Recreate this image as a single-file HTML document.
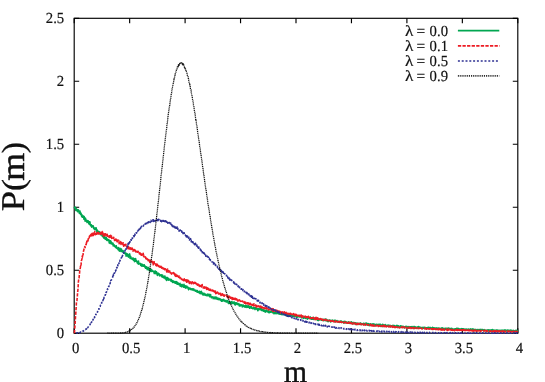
<!DOCTYPE html>
<html><head><meta charset="utf-8"><style>
html,body{margin:0;padding:0;background:#fff;}
body{width:545px;height:382px;overflow:hidden;font-family:"Liberation Serif",serif;}
svg{display:block;}
text{font-family:"Liberation Serif",serif;fill:#111;text-rendering:geometricPrecision;}
</style></head><body>
<svg width="545" height="382" viewBox="0 0 545 382">
<rect width="545" height="382" fill="#fff"/>
<g fill="none" stroke="#000" stroke-width="1.15">
<rect x="74.2" y="18.3" width="443.60" height="314.90"/>
<path d="M74.20 333.2 V328.2 M74.20 18.3 V23.3"/><path d="M129.65 333.2 V328.2 M129.65 18.3 V23.3"/><path d="M185.10 333.2 V328.2 M185.10 18.3 V23.3"/><path d="M240.55 333.2 V328.2 M240.55 18.3 V23.3"/><path d="M296.00 333.2 V328.2 M296.00 18.3 V23.3"/><path d="M351.45 333.2 V328.2 M351.45 18.3 V23.3"/><path d="M406.90 333.2 V328.2 M406.90 18.3 V23.3"/><path d="M462.35 333.2 V328.2 M462.35 18.3 V23.3"/><path d="M517.80 333.2 V328.2 M517.80 18.3 V23.3"/><path d="M74.2 333.20 H79.2 M517.8 333.20 H512.8"/><path d="M74.2 270.22 H79.2 M517.8 270.22 H512.8"/><path d="M74.2 207.24 H79.2 M517.8 207.24 H512.8"/><path d="M74.2 144.26 H79.2 M517.8 144.26 H512.8"/><path d="M74.2 81.28 H79.2 M517.8 81.28 H512.8"/><path d="M74.2 18.30 H79.2 M517.8 18.30 H512.8"/>
</g>
<g fill="none" stroke-linejoin="round">
<path d="M74.2 207.2 L74.4 207.8 L74.6 207.4 L74.9 207.0 L75.1 207.8 L75.3 207.4 L75.5 208.8 L75.8 210.4 L76.0 208.7 L76.2 208.8 L76.4 210.3 L76.6 210.4 L76.9 210.3 L77.1 209.5 L77.3 210.7 L77.5 211.7 L77.7 209.8 L78.0 211.0 L78.2 209.7 L78.4 210.6 L78.6 210.2 L78.9 212.2 L79.1 211.3 L79.3 213.2 L79.5 213.3 L79.7 213.2 L80.0 211.0 L80.2 213.3 L80.4 214.0 L80.6 214.5 L80.9 213.0 L81.1 214.3 L81.3 214.0 L81.5 214.4 L81.7 216.6 L82.0 214.9 L82.2 216.0 L82.4 217.1 L82.6 215.9 L82.9 216.6 L83.1 217.0 L83.3 217.2 L83.5 216.1 L83.7 217.7 L84.0 219.3 L84.2 216.5 L84.4 219.2 L84.6 218.7 L84.8 218.1 L85.1 221.1 L85.3 220.0 L85.5 218.2 L85.7 219.8 L86.0 220.5 L86.2 219.9 L86.4 221.1 L86.6 220.5 L86.8 221.5 L87.1 222.5 L87.3 220.6 L87.5 221.7 L87.7 221.2 L88.0 222.1 L88.2 220.9 L88.4 221.8 L88.6 222.4 L88.8 223.7 L89.1 224.2 L89.3 221.9 L89.5 222.7 L89.7 224.4 L89.9 221.9 L90.2 223.7 L90.4 224.3 L90.6 225.8 L90.8 225.5 L91.1 224.7 L91.3 224.8 L91.5 225.2 L91.7 227.2 L91.9 225.4 L92.2 225.8 L92.4 226.6 L92.6 226.4 L92.8 226.5 L93.1 225.8 L93.3 227.1 L93.5 226.9 L93.7 228.7 L93.9 228.4 L94.2 228.0 L94.4 228.9 L94.6 228.1 L94.8 229.7 L95.0 228.8 L95.3 229.6 L95.5 228.0 L95.7 229.8 L95.9 228.0 L96.2 227.9 L96.4 229.8 L96.6 229.4 L96.8 230.6 L97.0 232.9 L97.3 230.1 L97.5 230.5 L97.7 231.5 L97.9 232.0 L98.2 231.5 L98.4 231.7 L98.6 232.8 L98.8 232.8 L99.0 231.5 L99.3 232.6 L99.5 233.0 L99.7 232.1 L99.9 233.6 L100.2 232.7 L100.4 234.7 L100.6 234.1 L100.8 234.2 L101.0 233.7 L101.3 234.4 L101.5 232.8 L101.7 233.8 L101.9 235.5 L102.1 233.2 L102.4 236.3 L102.6 234.0 L102.8 236.6 L103.0 235.3 L103.3 237.0 L103.5 236.6 L103.7 235.2 L103.9 238.1 L104.1 238.4 L104.4 237.2 L104.6 237.2 L104.8 237.5 L105.0 236.9 L105.3 239.1 L105.5 237.7 L105.7 238.3 L105.9 237.8 L106.1 238.2 L106.4 237.7 L106.6 240.3 L106.8 239.2 L107.0 240.4 L107.2 239.7 L107.5 239.2 L107.7 239.8 L107.9 239.7 L108.1 240.5 L108.4 240.3 L108.6 240.5 L108.8 239.7 L109.0 240.4 L109.2 242.9 L109.5 240.9 L109.7 240.7 L109.9 242.2 L110.1 243.4 L110.4 240.9 L110.6 242.3 L110.8 242.0 L111.0 241.2 L111.2 243.7 L111.5 243.2 L111.7 243.4 L111.9 242.8 L112.1 244.2 L112.3 243.4 L112.6 243.9 L112.8 243.2 L113.0 243.3 L113.2 245.9 L113.5 244.3 L113.7 245.2 L113.9 245.1 L114.1 244.9 L114.3 245.0 L114.6 246.3 L114.8 245.6 L115.0 245.9 L115.2 246.2 L115.5 247.5 L115.7 247.2 L115.9 247.1 L116.1 246.4 L116.3 245.8 L116.6 248.1 L116.8 248.3 L117.0 247.4 L117.2 248.2 L117.5 248.6 L117.7 248.9 L117.9 249.1 L118.1 248.0 L118.3 250.0 L118.6 247.6 L118.8 249.7 L119.0 249.6 L119.2 250.1 L119.4 251.2 L119.7 251.0 L119.9 248.7 L120.1 248.4 L120.3 250.9 L120.6 249.3 L120.8 250.4 L121.0 251.4 L121.2 249.3 L121.4 249.0 L121.7 251.3 L121.9 251.3 L122.1 251.2 L122.3 251.6 L122.6 251.0 L122.8 250.5 L123.0 251.9 L123.2 251.4 L123.4 250.9 L123.7 253.0 L123.9 252.7 L124.1 253.2 L124.3 252.2 L124.5 252.6 L124.8 252.5 L125.0 252.7 L125.2 253.9 L125.4 253.1 L125.7 254.3 L125.9 254.5 L126.1 256.1 L126.3 253.2 L126.5 255.4 L126.8 254.7 L127.0 254.9 L127.2 253.8 L127.4 254.8 L127.7 256.1 L127.9 255.5 L128.1 255.8 L128.3 255.6 L128.5 257.1 L128.8 256.2 L129.0 254.4 L129.2 255.9 L129.4 254.9 L129.7 253.9 L129.9 256.5 L130.1 258.3 L130.3 257.3 L130.5 256.4 L130.8 256.7 L131.0 258.7 L131.2 258.0 L131.4 258.1 L131.6 258.1 L131.9 258.3 L132.1 259.2 L132.3 259.1 L132.5 259.0 L132.8 258.0 L133.0 259.5 L133.2 258.6 L133.4 260.3 L133.6 258.4 L133.9 259.5 L134.1 259.8 L134.3 258.8 L134.5 261.6 L134.8 261.5 L135.0 260.0 L135.2 261.2 L135.4 261.0 L135.6 258.6 L135.9 261.2 L136.1 261.1 L136.3 261.3 L136.5 260.5 L136.7 261.3 L137.0 261.5 L137.2 262.8 L137.4 262.3 L137.6 262.1 L137.9 263.6 L138.1 261.9 L138.3 262.2 L138.5 261.1 L138.7 264.2 L139.0 263.8 L139.2 263.9 L139.4 263.8 L139.6 263.5 L139.9 263.7 L140.1 263.4 L140.3 263.6 L140.5 264.0 L140.7 265.4 L141.0 264.7 L141.2 264.3 L141.4 264.0 L141.6 264.1 L141.8 266.1 L142.1 265.3 L142.3 265.1 L142.5 264.9 L142.7 264.4 L143.0 265.4 L143.2 266.3 L143.4 265.4 L143.6 265.7 L143.8 265.8 L144.1 266.2 L144.3 264.9 L144.5 266.2 L144.7 265.8 L145.0 267.4 L145.2 266.1 L145.4 267.4 L145.6 268.3 L145.8 266.9 L146.1 266.8 L146.3 267.6 L146.5 267.6 L146.7 266.9 L147.0 268.2 L147.2 269.6 L147.4 267.9 L147.6 268.1 L147.8 267.5 L148.1 268.8 L148.3 267.6 L148.5 267.8 L148.7 269.9 L148.9 268.3 L149.2 270.0 L149.4 270.5 L149.6 269.6 L149.8 270.0 L150.1 271.2 L150.3 269.6 L150.5 269.4 L150.7 268.9 L150.9 270.2 L151.2 271.5 L151.4 271.2 L151.6 269.8 L151.8 269.9 L152.1 270.4 L152.3 271.1 L152.5 270.9 L152.7 271.3 L152.9 271.5 L153.2 271.2 L153.4 271.5 L153.6 271.8 L153.8 271.7 L154.0 272.3 L154.3 273.5 L154.5 272.6 L154.7 272.3 L154.9 271.0 L155.2 272.8 L155.4 271.0 L155.6 271.6 L155.8 273.6 L156.0 273.6 L156.3 273.0 L156.5 271.8 L156.7 273.0 L156.9 272.9 L157.2 274.1 L157.4 275.5 L157.6 274.0 L157.8 273.3 L158.0 273.1 L158.3 274.1 L158.5 274.2 L158.7 273.5 L158.9 274.6 L159.1 273.7 L159.4 275.7 L159.6 275.7 L159.8 275.9 L160.0 274.7 L160.3 275.6 L160.5 275.2 L160.7 275.1 L160.9 275.3 L161.1 274.7 L161.4 274.7 L161.6 276.5 L161.8 275.9 L162.0 276.3 L162.3 277.1 L162.5 275.0 L162.7 275.9 L162.9 276.7 L163.1 277.0 L163.4 276.5 L163.6 277.8 L163.8 277.2 L164.0 276.2 L164.3 276.5 L164.5 278.0 L164.7 277.9 L164.9 276.1 L165.1 278.8 L165.4 278.3 L165.6 279.0 L165.8 277.8 L166.0 277.9 L166.2 277.4 L166.5 280.4 L166.7 278.4 L166.9 279.8 L167.1 278.2 L167.4 278.9 L167.6 277.6 L167.8 278.7 L168.0 279.9 L168.2 278.3 L168.5 280.2 L168.7 279.7 L168.9 278.8 L169.1 279.3 L169.4 279.4 L169.6 279.9 L169.8 279.6 L170.0 279.5 L170.2 280.0 L170.5 279.5 L170.7 279.4 L170.9 280.5 L171.1 281.3 L171.3 279.6 L171.6 280.9 L171.8 280.5 L172.0 280.3 L172.2 281.8 L172.5 280.9 L172.7 282.5 L172.9 280.9 L173.1 281.9 L173.3 281.5 L173.6 281.2 L173.8 282.3 L174.0 281.9 L174.2 282.6 L174.5 282.2 L174.7 281.5 L174.9 282.3 L175.1 282.5 L175.3 283.3 L175.6 282.0 L175.8 282.8 L176.0 281.6 L176.2 283.5 L176.4 282.3 L176.7 281.8 L176.9 283.3 L177.1 284.2 L177.3 282.4 L177.6 282.8 L177.8 283.1 L178.0 282.9 L178.2 284.2 L178.4 283.4 L178.7 283.6 L178.9 284.6 L179.1 283.7 L179.3 284.7 L179.6 283.8 L179.8 283.7 L180.0 283.3 L180.2 286.2 L180.4 284.6 L180.7 285.2 L180.9 285.0 L181.1 285.3 L181.3 285.3 L181.6 286.8 L181.8 284.7 L182.0 284.4 L182.2 284.9 L182.4 284.7 L182.7 286.4 L182.9 286.5 L183.1 285.3 L183.3 285.1 L183.5 285.9 L183.8 287.3 L184.0 284.3 L184.2 286.9 L184.4 285.8 L184.7 287.4 L184.9 286.0 L185.1 286.7 L185.3 285.8 L185.5 286.3 L185.8 288.2 L186.0 287.8 L186.2 287.0 L186.4 286.8 L186.7 286.1 L186.9 287.3 L187.1 287.7 L187.3 287.7 L187.5 287.8 L187.8 287.1 L188.0 288.0 L188.2 288.1 L188.4 289.2 L188.6 289.7 L188.9 288.3 L189.1 287.9 L189.3 288.5 L189.5 288.2 L189.8 288.2 L190.0 288.8 L190.2 288.2 L190.4 289.5 L190.6 289.0 L190.9 289.4 L191.1 289.2 L191.3 288.9 L191.5 288.8 L191.8 289.4 L192.0 289.3 L192.2 289.9 L192.4 289.8 L192.6 288.9 L192.9 290.0 L193.1 289.1 L193.3 289.7 L193.5 290.0 L193.8 288.9 L194.0 290.5 L194.2 290.6 L194.4 290.5 L194.6 290.4 L194.9 290.5 L195.1 290.2 L195.3 290.7 L195.5 290.6 L195.7 291.2 L196.0 290.3 L196.2 291.4 L196.4 291.5 L196.6 291.3 L196.9 291.2 L197.1 292.0 L197.3 290.5 L197.5 292.1 L197.7 292.0 L198.0 292.1 L198.2 292.3 L198.4 291.6 L198.6 292.0 L198.9 292.7 L199.1 292.7 L199.3 292.6 L199.5 291.4 L199.7 293.0 L200.0 293.5 L200.2 293.5 L200.4 293.0 L200.6 291.8 L200.8 293.7 L201.1 293.0 L201.3 291.4 L201.5 293.5 L201.7 292.3 L202.0 292.5 L202.2 293.0 L202.4 294.4 L202.6 293.4 L202.8 293.9 L203.1 295.0 L203.3 295.0 L203.5 293.9 L203.7 293.9 L204.0 293.2 L204.2 293.7 L204.4 294.6 L204.6 294.6 L204.8 294.5 L205.1 295.2 L205.3 294.0 L205.5 294.6 L205.7 295.2 L205.9 295.2 L206.2 295.6 L206.4 295.2 L206.6 294.8 L206.8 295.4 L207.1 294.5 L207.3 294.1 L207.5 295.7 L207.7 295.4 L207.9 295.7 L208.2 294.4 L208.4 295.4 L208.6 295.3 L208.8 295.2 L209.1 294.3 L209.3 295.7 L209.5 296.6 L209.7 296.3 L209.9 295.8 L210.2 296.2 L210.4 296.8 L210.6 294.5 L210.8 296.4 L211.1 296.9 L211.3 297.1 L211.5 297.8 L211.7 297.5 L211.9 297.0 L212.2 297.1 L212.4 297.5 L212.6 296.7 L212.8 297.1 L213.0 297.8 L213.3 298.6 L213.5 297.2 L213.7 297.4 L213.9 297.6 L214.2 298.4 L214.4 297.6 L214.6 298.7 L214.8 297.1 L215.0 297.7 L215.3 297.8 L215.5 298.5 L215.7 298.7 L215.9 297.1 L216.2 297.6 L216.4 298.5 L216.6 297.9 L216.8 297.4 L217.0 299.1 L217.3 298.9 L217.5 298.9 L217.7 298.3 L217.9 299.4 L218.1 298.6 L218.4 299.6 L218.6 298.3 L218.8 298.4 L219.0 299.2 L219.3 298.7 L219.5 299.7 L219.7 299.5 L219.9 298.7 L220.1 299.5 L220.4 299.3 L220.6 300.2 L220.8 299.2 L221.0 299.4 L221.3 300.5 L221.5 301.3 L221.7 301.2 L221.9 300.0 L222.1 300.2 L222.4 301.1 L222.6 300.1 L222.8 299.6 L223.0 300.4 L223.2 300.6 L223.5 299.9 L223.7 299.4 L223.9 299.6 L224.1 301.0 L224.4 300.2 L224.6 300.6 L224.8 300.9 L225.0 301.3 L225.2 300.7 L225.5 301.3 L225.7 300.5 L225.9 300.9 L226.1 300.5 L226.4 302.0 L226.6 301.3 L226.8 300.9 L227.0 301.2 L227.2 301.4 L227.5 302.0 L227.7 300.6 L227.9 301.0 L228.1 301.5 L228.4 303.5 L228.6 302.5 L228.8 301.9 L229.0 302.5 L229.2 303.4 L229.5 302.0 L229.7 302.0 L229.9 303.0 L230.1 302.6 L230.3 302.8 L230.6 302.1 L230.8 303.7 L231.0 303.7 L231.2 303.0 L231.5 303.1 L231.7 301.5 L231.9 303.2 L232.1 302.8 L232.3 303.2 L232.6 303.4 L232.8 302.8 L233.0 302.0 L233.2 303.4 L233.5 302.8 L233.7 303.1 L233.9 303.0 L234.1 303.2 L234.3 302.0 L234.6 304.3 L234.8 303.8 L235.0 304.4 L235.2 305.0 L235.4 303.8 L235.7 302.7 L235.9 303.3 L236.1 303.2 L236.3 303.7 L236.6 304.1 L236.8 302.9 L237.0 304.4 L237.2 303.3 L237.4 304.5 L237.7 304.3 L237.9 304.2 L238.1 304.4 L238.3 304.2 L238.6 304.2 L238.8 303.6 L239.0 304.7 L239.2 305.9 L239.4 306.0 L239.7 305.7 L239.9 305.4 L240.1 304.6 L240.3 305.9 L240.6 305.1 L240.8 305.1 L241.0 305.0 L241.2 305.3 L241.4 305.0 L241.7 305.3 L241.9 304.8 L242.1 305.3 L242.3 307.0 L242.5 305.6 L242.8 305.5 L243.0 306.0 L243.2 306.2 L243.4 305.1 L243.7 305.7 L243.9 306.5 L244.1 306.1 L244.3 306.1 L244.5 307.0 L244.8 305.7 L245.0 306.2 L245.2 305.9 L245.4 307.2 L245.7 305.2 L245.9 306.0 L246.1 306.1 L246.3 306.9 L246.5 306.9 L246.8 307.5 L247.0 305.7 L247.2 307.2 L247.4 306.6 L247.6 306.4 L247.9 307.2 L248.1 306.4 L248.3 305.7 L248.5 306.8 L248.8 306.2 L249.0 306.8 L249.2 307.4 L249.4 307.4 L249.6 308.3 L249.9 307.2 L250.1 306.5 L250.3 307.0 L250.5 307.0 L250.8 306.8 L251.0 307.9 L251.2 307.3 L251.4 306.5 L251.6 308.2 L251.9 307.8 L252.1 308.1 L252.3 308.0 L252.5 308.4 L252.7 308.0 L253.0 308.8 L253.2 308.4 L253.4 308.4 L253.6 308.5 L253.9 307.4 L254.1 308.2 L254.3 308.2 L254.5 308.5 L254.7 307.7 L255.0 309.5 L255.2 308.6 L255.4 307.9 L255.6 307.7 L255.9 308.6 L256.1 308.7 L256.3 308.4 L256.5 308.9 L256.7 308.5 L257.0 309.3 L257.2 308.6 L257.4 309.0 L257.6 309.7 L257.9 310.7 L258.1 308.6 L258.3 309.0 L258.5 308.8 L258.7 309.8 L259.0 308.7 L259.2 309.2 L259.4 309.5 L259.6 309.0 L259.8 309.0 L260.1 309.4 L260.3 308.4 L260.5 308.9 L260.7 309.5 L261.0 309.9 L261.2 309.8 L261.4 308.9 L261.6 309.7 L261.8 310.5 L262.1 310.4 L262.3 310.1 L262.5 309.6 L262.7 310.6 L263.0 309.9 L263.2 309.6 L263.4 309.9 L263.6 311.2 L263.8 310.5 L264.1 311.1 L264.3 310.2 L264.5 311.1 L264.7 310.3 L264.9 310.6 L265.2 312.1 L265.4 311.2 L265.6 310.5 L265.8 310.8 L266.1 311.1 L266.3 311.6 L266.5 310.7 L266.7 310.0 L266.9 310.9 L267.2 311.1 L267.4 311.2 L267.6 311.9 L267.8 311.4 L268.1 311.7 L268.3 310.7 L268.5 311.9 L268.7 312.6 L268.9 311.9 L269.2 311.6 L269.4 311.6 L269.6 312.6 L269.8 311.1 L270.0 311.6 L270.3 312.0 L270.5 312.2 L270.7 311.5 L270.9 312.0 L271.2 311.7 L271.4 312.0 L271.6 311.9 L271.8 311.4 L272.0 312.0 L272.3 312.6 L272.5 311.6 L272.7 312.0 L272.9 312.6 L273.2 311.6 L273.4 312.4 L273.6 311.7 L273.8 313.0 L274.0 313.7 L274.3 313.6 L274.5 312.4 L274.7 313.0 L274.9 312.7 L275.2 312.7 L275.4 313.5 L275.6 312.0 L275.8 313.3 L276.0 312.8 L276.3 313.6 L276.5 313.0 L276.7 312.5 L276.9 313.1 L277.1 313.4 L277.4 313.1 L277.6 313.3 L277.8 312.8 L278.0 312.0 L278.3 313.7 L278.5 313.6 L278.7 313.4 L278.9 313.4 L279.1 313.9 L279.4 313.1 L279.6 313.0 L279.8 313.4 L280.0 314.2 L280.3 312.8 L280.5 314.3 L280.7 313.3 L280.9 313.1 L281.1 314.4 L281.4 313.7 L281.6 313.1 L281.8 313.6 L282.0 314.4 L282.2 314.6 L282.5 313.7 L282.7 314.2 L282.9 314.4 L283.1 313.7 L283.4 314.3 L283.6 314.1 L283.8 313.9 L284.0 313.9 L284.2 314.3 L284.5 314.3 L284.7 314.0 L284.9 314.1 L285.1 315.0 L285.4 314.6 L285.6 315.0 L285.8 315.2 L286.0 314.9 L286.2 315.8 L286.5 314.2 L286.7 315.1 L286.9 314.5 L287.1 315.7 L287.3 315.7 L287.6 313.7 L287.8 314.3 L288.0 315.2 L288.2 315.3 L288.5 315.4 L288.7 315.0 L288.9 315.3 L289.1 315.4 L289.3 315.1 L289.6 315.7 L289.8 313.9 L290.0 315.6 L290.2 314.7 L290.5 315.8 L290.7 315.2 L290.9 314.9 L291.1 315.6 L291.3 314.9 L291.6 315.0 L291.8 314.6 L292.0 315.5 L292.2 315.8 L292.5 316.1 L292.7 315.6 L292.9 316.2 L293.1 315.7 L293.3 315.7 L293.6 316.1 L293.8 316.4 L294.0 315.7 L294.2 315.7 L294.4 315.8 L294.7 316.0 L294.9 315.5 L295.1 316.6 L295.3 315.8 L295.6 316.3 L295.8 315.7 L296.0 316.3 L296.2 316.4 L296.4 316.0 L296.7 317.3 L296.9 316.5 L297.1 317.3 L297.3 316.9 L297.6 316.0 L297.8 316.2 L298.0 316.7 L298.2 316.5 L298.4 316.6 L298.7 316.4 L298.9 315.6 L299.1 316.5 L299.3 315.5 L299.5 316.9 L299.8 316.3 L300.0 316.4 L300.2 316.7 L300.4 317.0 L300.7 316.1 L300.9 316.0 L301.1 316.4 L301.3 315.9 L301.5 316.5 L301.8 317.9 L302.0 316.5 L302.2 317.4 L302.4 316.4 L302.7 317.3 L302.9 317.0 L303.1 317.2 L303.3 317.5 L303.5 318.2 L303.8 317.4 L304.0 317.4 L304.2 316.9 L304.4 317.7 L304.7 317.3 L304.9 317.9 L305.1 317.5 L305.3 318.4 L305.5 316.5 L305.8 317.4 L306.0 318.1 L306.2 317.5 L306.4 317.3 L306.6 317.6 L306.9 317.0 L307.1 317.8 L307.3 319.1 L307.5 318.4 L307.8 317.3 L308.0 317.4 L308.2 317.7 L308.4 318.5 L308.6 317.6 L308.9 317.7 L309.1 318.5 L309.3 318.5 L309.5 317.9 L309.8 317.6 L310.0 317.4 L310.2 317.8 L310.4 317.1 L310.6 318.6 L310.9 318.0 L311.1 318.6 L311.3 319.3 L311.5 319.0 L311.7 317.8 L312.0 318.9 L312.2 319.1 L312.4 318.1 L312.6 318.0 L312.9 318.5 L313.1 317.8 L313.3 319.4 L313.5 317.4 L313.7 318.1 L314.0 318.6 L314.2 318.6 L314.4 318.8 L314.6 318.9 L314.9 318.7 L315.1 319.4 L315.3 317.8 L315.5 318.9 L315.7 318.6 L316.0 319.0 L316.2 319.1 L316.4 318.6 L316.6 318.7 L316.8 319.5 L317.1 319.3 L317.3 318.8 L317.5 320.2 L317.7 320.3 L318.0 318.5 L318.2 319.4 L318.4 320.5 L318.6 319.7 L318.8 319.4 L319.1 319.3 L319.3 319.1 L319.5 319.3 L319.7 319.2 L320.0 319.8 L320.2 319.3 L320.4 319.3 L320.6 318.9 L320.8 319.5 L321.1 319.2 L321.3 319.5 L321.5 320.2 L321.7 319.9 L322.0 320.0 L322.2 319.9 L322.4 319.8 L322.6 319.7 L322.8 319.7 L323.1 320.2 L323.3 319.3 L323.5 320.6 L323.7 319.9 L323.9 319.6 L324.2 319.7 L324.4 319.7 L324.6 320.1 L324.8 319.7 L325.1 320.6 L325.3 319.7 L325.5 319.0 L325.7 319.8 L325.9 319.2 L326.2 320.2 L326.4 320.8 L326.6 320.6 L326.8 319.6 L327.1 319.9 L327.3 321.2 L327.5 320.5 L327.7 320.4 L327.9 320.9 L328.2 321.6 L328.4 321.1 L328.6 320.6 L328.8 320.7 L329.0 320.8 L329.3 320.3 L329.5 320.1 L329.7 320.6 L329.9 320.2 L330.2 320.6 L330.4 320.7 L330.6 321.9 L330.8 320.3 L331.0 320.7 L331.3 320.7 L331.5 321.0 L331.7 321.4 L331.9 320.6 L332.2 320.5 L332.4 320.1 L332.6 320.5 L332.8 321.2 L333.0 321.0 L333.3 320.5 L333.5 320.9 L333.7 321.1 L333.9 321.3 L334.1 320.8 L334.4 321.0 L334.6 320.3 L334.8 320.6 L335.0 322.0 L335.3 320.2 L335.5 321.1 L335.7 321.4 L335.9 321.1 L336.1 320.9 L336.4 321.3 L336.6 321.4 L336.8 321.4 L337.0 320.5 L337.3 321.4 L337.5 321.1 L337.7 321.2 L337.9 321.6 L338.1 321.8 L338.4 322.0 L338.6 321.4 L338.8 322.1 L339.0 322.2 L339.3 322.2 L339.5 322.3 L339.7 321.6 L339.9 321.6 L340.1 322.1 L340.4 321.1 L340.6 321.9 L340.8 321.6 L341.0 321.7 L341.2 321.0 L341.5 321.5 L341.7 321.9 L341.9 322.4 L342.1 322.4 L342.4 321.9 L342.6 321.9 L342.8 321.6 L343.0 322.2 L343.2 321.9 L343.5 322.4 L343.7 322.9 L343.9 322.1 L344.1 321.4 L344.4 321.8 L344.6 321.5 L344.8 321.7 L345.0 322.9 L345.2 322.4 L345.5 321.6 L345.7 322.6 L345.9 322.9 L346.1 322.2 L346.3 322.1 L346.6 322.2 L346.8 322.6 L347.0 322.7 L347.2 323.0 L347.5 323.0 L347.7 323.1 L347.9 323.2 L348.1 322.9 L348.3 321.9 L348.6 322.5 L348.8 322.8 L349.0 322.5 L349.2 323.1 L349.5 322.5 L349.7 322.3 L349.9 323.4 L350.1 323.0 L350.3 322.9 L350.6 323.2 L350.8 323.3 L351.0 323.0 L351.2 321.7 L351.4 322.5 L351.7 322.7 L351.9 322.4 L352.1 323.0 L352.3 323.5 L352.6 322.7 L352.8 322.5 L353.0 323.9 L353.2 322.8 L353.4 322.5 L353.7 323.2 L353.9 323.3 L354.1 322.8 L354.3 323.5 L354.6 322.9 L354.8 322.7 L355.0 323.3 L355.2 323.6 L355.4 322.9 L355.7 323.4 L355.9 323.2 L356.1 324.6 L356.3 323.0 L356.6 324.0 L356.8 323.3 L357.0 323.3 L357.2 323.7 L357.4 323.8 L357.7 324.0 L357.9 323.6 L358.1 323.2 L358.3 323.2 L358.5 323.7 L358.8 323.8 L359.0 324.2 L359.2 323.8 L359.4 324.1 L359.7 324.3 L359.9 323.7 L360.1 323.0 L360.3 323.1 L360.5 323.0 L360.8 324.4 L361.0 323.3 L361.2 324.3 L361.4 324.0 L361.7 324.5 L361.9 324.2 L362.1 323.8 L362.3 323.7 L362.5 323.9 L362.8 323.9 L363.0 323.6 L363.2 323.9 L363.4 324.6 L363.6 323.2 L363.9 324.1 L364.1 323.6 L364.3 324.1 L364.5 324.4 L364.8 324.0 L365.0 324.4 L365.2 323.4 L365.4 324.6 L365.6 323.8 L365.9 324.4 L366.1 324.2 L366.3 323.0 L366.5 323.8 L366.8 324.3 L367.0 324.9 L367.2 324.4 L367.4 324.4 L367.6 323.6 L367.9 324.9 L368.1 325.1 L368.3 324.3 L368.5 324.2 L368.8 323.6 L369.0 324.8 L369.2 325.6 L369.4 324.7 L369.6 325.0 L369.9 324.7 L370.1 324.0 L370.3 325.1 L370.5 323.9 L370.7 324.4 L371.0 324.7 L371.2 324.9 L371.4 324.7 L371.6 324.8 L371.9 324.3 L372.1 324.0 L372.3 324.7 L372.5 324.3 L372.7 324.1 L373.0 324.1 L373.2 324.5 L373.4 323.9 L373.6 324.1 L373.9 324.0 L374.1 324.8 L374.3 325.0 L374.5 325.7 L374.7 324.2 L375.0 324.5 L375.2 325.3 L375.4 324.8 L375.6 324.7 L375.8 325.7 L376.1 324.8 L376.3 324.4 L376.5 324.4 L376.7 325.1 L377.0 325.1 L377.2 324.4 L377.4 324.6 L377.6 325.3 L377.8 325.3 L378.1 324.8 L378.3 325.4 L378.5 325.3 L378.7 324.3 L379.0 325.0 L379.2 325.3 L379.4 324.9 L379.6 324.3 L379.8 325.1 L380.1 325.5 L380.3 325.9 L380.5 324.3 L380.7 326.4 L380.9 324.8 L381.2 325.7 L381.4 325.8 L381.6 325.7 L381.8 325.4 L382.1 324.9 L382.3 325.6 L382.5 325.1 L382.7 324.3 L382.9 326.6 L383.2 325.7 L383.4 326.2 L383.6 325.1 L383.8 326.1 L384.1 326.2 L384.3 326.2 L384.5 325.5 L384.7 325.0 L384.9 325.5 L385.2 324.6 L385.4 324.9 L385.6 325.6 L385.8 325.2 L386.1 325.6 L386.3 325.6 L386.5 326.5 L386.7 326.2 L386.9 325.7 L387.2 326.2 L387.4 325.4 L387.6 325.6 L387.8 326.1 L388.0 325.2 L388.3 325.7 L388.5 325.2 L388.7 325.9 L388.9 326.5 L389.2 325.5 L389.4 326.0 L389.6 325.5 L389.8 325.4 L390.0 325.4 L390.3 326.5 L390.5 326.9 L390.7 326.1 L390.9 325.7 L391.2 326.3 L391.4 325.8 L391.6 326.3 L391.8 326.1 L392.0 326.1 L392.3 326.3 L392.5 325.8 L392.7 325.9 L392.9 325.4 L393.1 325.9 L393.4 325.5 L393.6 326.1 L393.8 325.7 L394.0 326.2 L394.3 326.4 L394.5 325.6 L394.7 325.9 L394.9 325.8 L395.1 326.5 L395.4 327.0 L395.6 326.6 L395.8 326.1 L396.0 326.9 L396.3 325.7 L396.5 326.9 L396.7 326.0 L396.9 325.2 L397.1 327.5 L397.4 327.0 L397.6 325.9 L397.8 326.5 L398.0 326.3 L398.2 326.5 L398.5 325.8 L398.7 326.2 L398.9 326.7 L399.1 326.6 L399.4 327.0 L399.6 326.5 L399.8 327.5 L400.0 326.2 L400.2 326.6 L400.5 325.8 L400.7 326.0 L400.9 327.1 L401.1 326.2 L401.4 326.8 L401.6 326.6 L401.8 326.2 L402.0 326.5 L402.2 326.4 L402.5 326.5 L402.7 327.0 L402.9 327.0 L403.1 326.5 L403.4 326.4 L403.6 326.9 L403.8 326.7 L404.0 327.2 L404.2 327.9 L404.5 327.1 L404.7 326.8 L404.9 326.7 L405.1 326.5 L405.3 326.5 L405.6 326.4 L405.8 326.7 L406.0 326.7 L406.2 327.2 L406.5 326.7 L406.7 326.8 L406.9 326.4 L407.1 327.6 L407.3 327.2 L407.6 327.7 L407.8 327.3 L408.0 327.6 L408.2 326.9 L408.5 327.3 L408.7 328.1 L408.9 326.5 L409.1 327.5 L409.3 327.8 L409.6 327.2 L409.8 327.4 L410.0 327.6 L410.2 326.8 L410.4 327.3 L410.7 326.8 L410.9 326.9 L411.1 326.9 L411.3 327.1 L411.6 327.2 L411.8 327.4 L412.0 326.6 L412.2 328.0 L412.4 327.7 L412.7 327.5 L412.9 327.1 L413.1 327.2 L413.3 327.5 L413.6 327.5 L413.8 326.6 L414.0 327.6 L414.2 328.5 L414.4 326.6 L414.7 327.8 L414.9 327.5 L415.1 327.3 L415.3 328.0 L415.6 326.9 L415.8 327.5 L416.0 328.0 L416.2 327.4 L416.4 327.3 L416.7 327.5 L416.9 327.3 L417.1 328.1 L417.3 327.1 L417.5 327.9 L417.8 327.0 L418.0 327.8 L418.2 327.5 L418.4 326.5 L418.7 327.6 L418.9 327.1 L419.1 327.4 L419.3 328.2 L419.5 327.1 L419.8 327.2 L420.0 328.2 L420.2 327.7 L420.4 328.3 L420.7 327.8 L420.9 327.3 L421.1 327.7 L421.3 328.2 L421.5 328.1 L421.8 327.7 L422.0 327.7 L422.2 327.7 L422.4 327.5 L422.6 328.5 L422.9 327.8 L423.1 327.3 L423.3 327.6 L423.5 328.1 L423.8 328.1 L424.0 327.8 L424.2 327.6 L424.4 327.9 L424.6 327.2 L424.9 327.3 L425.1 328.2 L425.3 327.7 L425.5 328.1 L425.8 328.4 L426.0 328.2 L426.2 327.9 L426.4 328.8 L426.6 328.2 L426.9 327.8 L427.1 328.3 L427.3 328.1 L427.5 327.6 L427.7 328.0 L428.0 327.9 L428.2 327.2 L428.4 328.0 L428.6 327.9 L428.9 327.9 L429.1 327.4 L429.3 327.9 L429.5 328.1 L429.7 328.1 L430.0 327.7 L430.2 328.4 L430.4 327.6 L430.6 328.0 L430.9 328.7 L431.1 327.9 L431.3 328.0 L431.5 328.6 L431.7 328.0 L432.0 328.1 L432.2 328.3 L432.4 328.6 L432.6 327.3 L432.9 327.9 L433.1 327.8 L433.3 327.8 L433.5 327.9 L433.7 327.9 L434.0 328.4 L434.2 327.9 L434.4 328.4 L434.6 328.5 L434.8 328.0 L435.1 328.4 L435.3 329.0 L435.5 328.5 L435.7 328.1 L436.0 328.3 L436.2 328.0 L436.4 328.5 L436.6 328.7 L436.8 328.1 L437.1 328.3 L437.3 328.9 L437.5 328.2 L437.7 328.5 L438.0 328.1 L438.2 328.1 L438.4 328.3 L438.6 329.3 L438.8 328.3 L439.1 328.3 L439.3 328.3 L439.5 328.5 L439.7 328.8 L439.9 328.6 L440.2 329.3 L440.4 328.6 L440.6 329.1 L440.8 328.7 L441.1 328.8 L441.3 328.0 L441.5 328.6 L441.7 328.6 L441.9 328.5 L442.2 327.8 L442.4 329.0 L442.6 328.5 L442.8 328.5 L443.1 328.6 L443.3 328.6 L443.5 328.8 L443.7 328.2 L443.9 328.4 L444.2 328.8 L444.4 328.8 L444.6 328.6 L444.8 328.5 L445.0 328.4 L445.3 328.7 L445.5 329.2 L445.7 328.4 L445.9 329.4 L446.2 329.1 L446.4 328.6 L446.6 329.1 L446.8 328.3 L447.0 328.2 L447.3 328.4 L447.5 328.7 L447.7 328.7 L447.9 328.7 L448.2 328.9 L448.4 328.1 L448.6 329.1 L448.8 328.4 L449.0 328.7 L449.3 328.8 L449.5 328.5 L449.7 328.4 L449.9 328.6 L450.2 328.9 L450.4 329.2 L450.6 329.2 L450.8 328.6 L451.0 328.7 L451.3 328.7 L451.5 329.2 L451.7 328.2 L451.9 329.5 L452.1 328.8 L452.4 328.7 L452.6 329.2 L452.8 329.4 L453.0 329.2 L453.3 329.5 L453.5 329.1 L453.7 329.5 L453.9 329.6 L454.1 329.1 L454.4 329.6 L454.6 329.2 L454.8 329.2 L455.0 328.8 L455.3 329.0 L455.5 329.4 L455.7 328.7 L455.9 329.4 L456.1 329.3 L456.4 329.3 L456.6 328.4 L456.8 329.2 L457.0 329.5 L457.2 328.9 L457.5 329.3 L457.7 328.4 L457.9 329.5 L458.1 329.0 L458.4 329.6 L458.6 328.6 L458.8 329.5 L459.0 329.2 L459.2 329.6 L459.5 329.0 L459.7 329.1 L459.9 330.1 L460.1 329.0 L460.4 329.1 L460.6 329.2 L460.8 329.0 L461.0 329.8 L461.2 330.0 L461.5 329.1 L461.7 328.7 L461.9 329.8 L462.1 329.8 L462.3 329.7 L462.6 329.8 L462.8 329.1 L463.0 329.4 L463.2 328.9 L463.5 328.9 L463.7 329.8 L463.9 329.2 L464.1 330.3 L464.3 329.5 L464.6 329.2 L464.8 329.8 L465.0 330.1 L465.2 329.7 L465.5 329.1 L465.7 329.6 L465.9 330.0 L466.1 329.3 L466.3 329.2 L466.6 329.9 L466.8 329.6 L467.0 329.2 L467.2 329.4 L467.5 329.3 L467.7 329.7 L467.9 329.6 L468.1 330.0 L468.3 329.9 L468.6 329.0 L468.8 329.8 L469.0 329.9 L469.2 329.8 L469.4 330.0 L469.7 329.4 L469.9 329.3 L470.1 330.0 L470.3 329.3 L470.6 328.9 L470.8 330.0 L471.0 329.4 L471.2 329.6 L471.4 329.2 L471.7 329.2 L471.9 329.3 L472.1 329.6 L472.3 329.9 L472.6 328.9 L472.8 330.0 L473.0 329.3 L473.2 329.4 L473.4 330.0 L473.7 329.7 L473.9 329.2 L474.1 330.4 L474.3 329.5 L474.5 329.9 L474.8 329.9 L475.0 330.3 L475.2 329.6 L475.4 330.2 L475.7 329.6 L475.9 330.2 L476.1 329.6 L476.3 329.7 L476.5 330.5 L476.8 330.0 L477.0 329.9 L477.2 330.7 L477.4 330.0 L477.7 329.6 L477.9 330.2 L478.1 329.5 L478.3 330.3 L478.5 330.3 L478.8 329.7 L479.0 329.7 L479.2 330.0 L479.4 329.9 L479.7 329.6 L479.9 330.2 L480.1 329.2 L480.3 329.8 L480.5 329.8 L480.8 329.9 L481.0 330.1 L481.2 329.6 L481.4 330.2 L481.6 329.9 L481.9 329.8 L482.1 329.5 L482.3 329.6 L482.5 330.2 L482.8 329.7 L483.0 330.1 L483.2 330.4 L483.4 330.4 L483.6 330.6 L483.9 330.0 L484.1 329.7 L484.3 330.4 L484.5 330.2 L484.8 330.5 L485.0 330.1 L485.2 330.5 L485.4 330.4 L485.6 330.4 L485.9 330.3 L486.1 330.3 L486.3 330.2 L486.5 330.2 L486.7 330.5 L487.0 330.0 L487.2 330.8 L487.4 330.1 L487.6 330.5 L487.9 330.1 L488.1 330.1 L488.3 330.9 L488.5 330.1 L488.7 329.8 L489.0 330.0 L489.2 330.1 L489.4 331.0 L489.6 330.3 L489.9 330.6 L490.1 329.9 L490.3 330.4 L490.5 330.5 L490.7 330.9 L491.0 330.0 L491.2 330.5 L491.4 330.4 L491.6 329.9 L491.8 330.3 L492.1 330.2 L492.3 329.5 L492.5 330.5 L492.7 330.5 L493.0 330.2 L493.2 329.9 L493.4 330.8 L493.6 330.4 L493.8 330.7 L494.1 330.8 L494.3 330.2 L494.5 330.6 L494.7 330.3 L495.0 330.3 L495.2 330.3 L495.4 330.4 L495.6 330.8 L495.8 330.4 L496.1 330.3 L496.3 330.3 L496.5 330.5 L496.7 330.1 L497.0 330.2 L497.2 330.4 L497.4 330.2 L497.6 330.4 L497.8 330.2 L498.1 331.1 L498.3 330.9 L498.5 330.6 L498.7 330.4 L498.9 331.2 L499.2 330.6 L499.4 330.4 L499.6 330.6 L499.8 330.6 L500.1 331.0 L500.3 330.5 L500.5 331.2 L500.7 330.2 L500.9 330.8 L501.2 330.2 L501.4 331.1 L501.6 330.4 L501.8 330.5 L502.1 330.9 L502.3 331.0 L502.5 330.2 L502.7 330.4 L502.9 330.1 L503.2 330.6 L503.4 330.5 L503.6 330.5 L503.8 330.3 L504.0 330.5 L504.3 330.3 L504.5 330.8 L504.7 331.1 L504.9 329.9 L505.2 330.6 L505.4 330.5 L505.6 330.8 L505.8 330.3 L506.0 330.6 L506.3 330.3 L506.5 330.9 L506.7 330.7 L506.9 330.6 L507.2 330.8 L507.4 330.6 L507.6 330.1 L507.8 330.9 L508.0 330.8 L508.3 330.6 L508.5 331.0 L508.7 331.1 L508.9 330.3 L509.1 330.4 L509.4 331.2 L509.6 331.2 L509.8 330.5 L510.0 330.3 L510.3 330.5 L510.5 330.6 L510.7 330.2 L510.9 330.8 L511.1 330.3 L511.4 330.3 L511.6 331.1 L511.8 330.5 L512.0 330.7 L512.3 331.0 L512.5 331.1 L512.7 330.7 L512.9 330.8 L513.1 330.5 L513.4 331.4 L513.6 331.0 L513.8 330.4 L514.0 330.8 L514.3 331.1 L514.5 331.0 L514.7 331.4 L514.9 331.3 L515.1 330.7 L515.4 330.8 L515.6 330.4 L515.8 330.9 L516.0 330.9 L516.2 331.8 L516.5 330.9 L516.7 330.2 L516.9 330.6 L517.1 330.9 L517.4 330.5 L517.6 330.6 L517.8 330.8" stroke="#00a651" stroke-width="1.6"/>
<path d="M74.4 333.2 L74.6 330.0 L74.9 326.5 L75.1 323.9 L75.3 320.1 L75.5 316.8 L75.8 313.1 L76.0 309.7 L76.2 306.8 L76.4 302.9 L76.6 301.9 L76.9 300.9 L77.1 298.8 L77.3 297.1 L77.5 293.6 L77.7 292.0 L78.0 288.8 L78.2 285.5 L78.4 281.8 L78.6 280.1 L78.9 279.3 L79.1 277.8 L79.3 275.0 L79.5 273.9 L79.7 271.0 L80.0 269.7 L80.2 268.4 L80.4 267.4 L80.6 264.8 L80.9 265.3 L81.1 264.4 L81.3 261.5 L81.5 260.2 L81.7 260.2 L82.0 258.4 L82.2 256.0 L82.4 257.2 L82.6 255.6 L82.9 254.1 L83.1 255.0 L83.3 252.6 L83.5 251.0 L83.7 250.7 L84.0 249.0 L84.2 248.5 L84.4 248.6 L84.6 247.2 L84.8 246.6 L85.1 247.6 L85.3 246.4 L85.5 245.7 L85.7 245.0 L86.0 244.4 L86.2 244.6 L86.4 242.9 L86.6 243.9 L86.8 241.2 L87.1 241.3 L87.3 240.0 L87.5 240.3 L87.7 240.6 L88.0 240.9 L88.2 238.8 L88.4 239.0 L88.6 238.3 L88.8 237.7 L89.1 237.0 L89.3 237.7 L89.5 236.0 L89.7 237.2 L89.9 236.8 L90.2 236.0 L90.4 235.4 L90.6 234.8 L90.8 237.1 L91.1 234.2 L91.3 236.3 L91.5 235.3 L91.7 234.3 L91.9 233.6 L92.2 235.2 L92.4 235.6 L92.6 233.4 L92.8 233.8 L93.1 234.8 L93.3 234.2 L93.5 235.4 L93.7 233.3 L93.9 234.1 L94.2 232.6 L94.4 235.2 L94.6 232.8 L94.8 231.6 L95.0 233.2 L95.3 233.1 L95.5 234.7 L95.7 232.9 L95.9 233.1 L96.2 233.6 L96.4 234.3 L96.6 233.0 L96.8 233.9 L97.0 233.4 L97.3 232.8 L97.5 233.1 L97.7 233.0 L97.9 232.3 L98.2 234.0 L98.4 231.9 L98.6 234.0 L98.8 233.8 L99.0 233.0 L99.3 232.5 L99.5 233.0 L99.7 233.6 L99.9 233.8 L100.2 233.5 L100.4 234.1 L100.6 232.9 L100.8 233.6 L101.0 232.2 L101.3 234.1 L101.5 233.7 L101.7 233.3 L101.9 234.6 L102.1 234.3 L102.4 231.5 L102.6 233.9 L102.8 232.7 L103.0 234.8 L103.3 236.0 L103.5 233.7 L103.7 234.2 L103.9 234.0 L104.1 234.6 L104.4 234.9 L104.6 235.5 L104.8 233.7 L105.0 235.8 L105.3 233.9 L105.5 235.0 L105.7 235.7 L105.9 235.5 L106.1 234.2 L106.4 234.5 L106.6 234.8 L106.8 235.2 L107.0 236.2 L107.2 234.3 L107.5 235.8 L107.7 236.0 L107.9 236.1 L108.1 236.1 L108.4 237.0 L108.6 236.2 L108.8 236.6 L109.0 236.5 L109.2 237.5 L109.5 234.7 L109.7 237.3 L109.9 236.2 L110.1 236.3 L110.4 235.8 L110.6 235.2 L110.8 236.5 L111.0 236.4 L111.2 237.5 L111.5 236.0 L111.7 238.4 L111.9 237.6 L112.1 237.4 L112.3 237.1 L112.6 237.2 L112.8 237.1 L113.0 237.6 L113.2 238.2 L113.5 238.2 L113.7 237.4 L113.9 238.4 L114.1 238.0 L114.3 239.0 L114.6 240.5 L114.8 239.7 L115.0 239.1 L115.2 238.2 L115.5 238.5 L115.7 238.4 L115.9 240.4 L116.1 239.4 L116.3 240.2 L116.6 239.8 L116.8 240.5 L117.0 241.6 L117.2 240.1 L117.5 240.5 L117.7 240.3 L117.9 241.7 L118.1 240.4 L118.3 240.4 L118.6 240.3 L118.8 240.4 L119.0 242.0 L119.2 243.8 L119.4 241.2 L119.7 242.8 L119.9 242.4 L120.1 241.5 L120.3 242.3 L120.6 242.4 L120.8 242.2 L121.0 244.4 L121.2 241.5 L121.4 243.4 L121.7 243.5 L121.9 243.0 L122.1 243.7 L122.3 244.4 L122.6 243.9 L122.8 244.3 L123.0 244.6 L123.2 242.7 L123.4 245.5 L123.7 246.2 L123.9 245.4 L124.1 245.5 L124.3 243.8 L124.5 244.9 L124.8 244.5 L125.0 244.8 L125.2 246.2 L125.4 244.9 L125.7 245.6 L125.9 244.4 L126.1 245.8 L126.3 246.1 L126.5 245.7 L126.8 245.8 L127.0 247.9 L127.2 245.7 L127.4 245.9 L127.7 246.2 L127.9 247.9 L128.1 248.7 L128.3 247.5 L128.5 246.8 L128.8 247.1 L129.0 248.4 L129.2 247.0 L129.4 248.9 L129.7 249.0 L129.9 248.1 L130.1 248.7 L130.3 248.8 L130.5 249.6 L130.8 247.7 L131.0 249.5 L131.2 248.5 L131.4 248.3 L131.6 249.1 L131.9 248.9 L132.1 248.5 L132.3 248.1 L132.5 248.7 L132.8 250.7 L133.0 251.2 L133.2 250.3 L133.4 250.8 L133.6 249.7 L133.9 250.1 L134.1 250.5 L134.3 249.6 L134.5 249.8 L134.8 250.7 L135.0 250.5 L135.2 250.1 L135.4 251.3 L135.6 250.9 L135.9 252.0 L136.1 251.4 L136.3 251.3 L136.5 251.7 L136.7 251.6 L137.0 251.4 L137.2 251.7 L137.4 252.7 L137.6 252.7 L137.9 253.3 L138.1 251.2 L138.3 252.3 L138.5 252.4 L138.7 253.0 L139.0 252.7 L139.2 252.8 L139.4 253.9 L139.6 253.5 L139.9 252.7 L140.1 254.7 L140.3 254.6 L140.5 253.6 L140.7 254.7 L141.0 253.7 L141.2 255.2 L141.4 254.4 L141.6 254.1 L141.8 254.6 L142.1 254.5 L142.3 255.3 L142.5 255.5 L142.7 255.5 L143.0 255.3 L143.2 253.2 L143.4 256.1 L143.6 254.8 L143.8 256.5 L144.1 257.3 L144.3 256.9 L144.5 256.5 L144.7 256.9 L145.0 257.1 L145.2 256.9 L145.4 257.1 L145.6 257.0 L145.8 258.7 L146.1 258.0 L146.3 258.9 L146.5 258.2 L146.7 258.6 L147.0 258.5 L147.2 259.2 L147.4 259.6 L147.6 259.3 L147.8 258.8 L148.1 258.9 L148.3 260.8 L148.5 259.6 L148.7 259.8 L148.9 261.2 L149.2 261.1 L149.4 260.8 L149.6 260.3 L149.8 262.4 L150.1 261.2 L150.3 261.4 L150.5 261.1 L150.7 260.3 L150.9 260.5 L151.2 261.9 L151.4 262.0 L151.6 261.7 L151.8 261.2 L152.1 261.1 L152.3 262.1 L152.5 261.4 L152.7 263.2 L152.9 263.5 L153.2 264.8 L153.4 263.6 L153.6 262.7 L153.8 262.6 L154.0 260.9 L154.3 263.1 L154.5 263.5 L154.7 264.4 L154.9 264.3 L155.2 264.4 L155.4 264.3 L155.6 264.7 L155.8 265.4 L156.0 263.8 L156.3 264.3 L156.5 263.8 L156.7 266.0 L156.9 265.9 L157.2 265.7 L157.4 264.4 L157.6 265.5 L157.8 265.4 L158.0 265.7 L158.3 265.6 L158.5 266.3 L158.7 265.8 L158.9 266.7 L159.1 266.4 L159.4 266.2 L159.6 266.4 L159.8 266.3 L160.0 267.3 L160.3 266.7 L160.5 267.2 L160.7 266.9 L160.9 266.2 L161.1 268.0 L161.4 266.8 L161.6 268.1 L161.8 268.0 L162.0 266.7 L162.3 267.3 L162.5 267.7 L162.7 267.6 L162.9 267.5 L163.1 268.9 L163.4 268.4 L163.6 268.9 L163.8 268.5 L164.0 269.1 L164.3 268.5 L164.5 269.1 L164.7 269.7 L164.9 269.4 L165.1 269.2 L165.4 268.9 L165.6 269.9 L165.8 270.1 L166.0 269.8 L166.2 269.6 L166.5 270.6 L166.7 272.0 L166.9 270.2 L167.1 270.8 L167.4 270.9 L167.6 269.1 L167.8 271.0 L168.0 270.6 L168.2 272.1 L168.5 271.1 L168.7 270.9 L168.9 271.4 L169.1 271.8 L169.4 271.4 L169.6 271.8 L169.8 271.1 L170.0 272.0 L170.2 272.8 L170.5 273.7 L170.7 273.0 L170.9 272.8 L171.1 273.5 L171.3 273.5 L171.6 274.1 L171.8 273.8 L172.0 273.1 L172.2 273.5 L172.5 273.5 L172.7 273.7 L172.9 273.8 L173.1 273.3 L173.3 272.5 L173.6 273.6 L173.8 272.8 L174.0 274.3 L174.2 274.4 L174.5 273.4 L174.7 275.0 L174.9 275.3 L175.1 274.9 L175.3 276.0 L175.6 276.3 L175.8 274.4 L176.0 276.0 L176.2 275.7 L176.4 275.8 L176.7 276.3 L176.9 275.3 L177.1 275.6 L177.3 275.5 L177.6 275.7 L177.8 276.3 L178.0 275.5 L178.2 275.9 L178.4 277.1 L178.7 276.9 L178.9 277.3 L179.1 276.0 L179.3 276.8 L179.6 277.1 L179.8 277.6 L180.0 277.4 L180.2 278.5 L180.4 278.0 L180.7 278.2 L180.9 278.3 L181.1 278.9 L181.3 278.3 L181.6 279.5 L181.8 279.2 L182.0 279.1 L182.2 279.2 L182.4 279.6 L182.7 280.0 L182.9 280.1 L183.1 279.9 L183.3 280.3 L183.5 279.9 L183.8 280.8 L184.0 280.1 L184.2 278.9 L184.4 281.1 L184.7 280.4 L184.9 279.7 L185.1 280.4 L185.3 280.1 L185.5 282.0 L185.8 281.1 L186.0 279.9 L186.2 281.3 L186.4 280.8 L186.7 282.3 L186.9 280.5 L187.1 279.9 L187.3 281.4 L187.5 281.2 L187.8 281.2 L188.0 280.2 L188.2 281.9 L188.4 282.8 L188.6 280.6 L188.9 282.6 L189.1 281.6 L189.3 283.5 L189.5 282.3 L189.8 282.0 L190.0 282.9 L190.2 282.6 L190.4 281.9 L190.6 282.8 L190.9 282.1 L191.1 281.4 L191.3 283.8 L191.5 282.4 L191.8 282.3 L192.0 282.9 L192.2 281.8 L192.4 281.9 L192.6 282.5 L192.9 282.6 L193.1 283.0 L193.3 283.7 L193.5 282.7 L193.8 283.3 L194.0 283.4 L194.2 282.4 L194.4 283.3 L194.6 282.6 L194.9 283.8 L195.1 283.5 L195.3 283.4 L195.5 282.6 L195.7 283.6 L196.0 283.2 L196.2 284.2 L196.4 283.8 L196.6 283.5 L196.9 284.6 L197.1 284.6 L197.3 283.9 L197.5 285.1 L197.7 284.3 L198.0 284.4 L198.2 284.7 L198.4 284.3 L198.6 284.6 L198.9 284.9 L199.1 286.0 L199.3 286.1 L199.5 285.1 L199.7 286.4 L200.0 285.4 L200.2 285.8 L200.4 286.2 L200.6 285.9 L200.8 287.3 L201.1 286.1 L201.3 285.3 L201.5 287.0 L201.7 286.0 L202.0 286.2 L202.2 284.6 L202.4 287.2 L202.6 287.2 L202.8 287.2 L203.1 287.4 L203.3 288.0 L203.5 287.0 L203.7 287.7 L204.0 286.8 L204.2 287.1 L204.4 288.1 L204.6 287.8 L204.8 286.8 L205.1 287.9 L205.3 287.7 L205.5 287.4 L205.7 288.3 L205.9 287.9 L206.2 287.3 L206.4 287.6 L206.6 289.4 L206.8 287.6 L207.1 288.7 L207.3 289.0 L207.5 289.1 L207.7 288.1 L207.9 288.8 L208.2 289.1 L208.4 289.6 L208.6 288.8 L208.8 288.6 L209.1 290.0 L209.3 290.2 L209.5 289.8 L209.7 289.3 L209.9 290.0 L210.2 289.9 L210.4 290.5 L210.6 289.3 L210.8 290.2 L211.1 290.2 L211.3 289.7 L211.5 290.6 L211.7 290.5 L211.9 290.4 L212.2 290.9 L212.4 290.0 L212.6 290.9 L212.8 291.2 L213.0 291.2 L213.3 291.8 L213.5 290.5 L213.7 290.5 L213.9 291.6 L214.2 291.8 L214.4 292.8 L214.6 292.1 L214.8 291.3 L215.0 292.3 L215.3 291.5 L215.5 291.2 L215.7 293.7 L215.9 292.4 L216.2 292.7 L216.4 292.7 L216.6 293.5 L216.8 292.7 L217.0 293.4 L217.3 292.2 L217.5 292.0 L217.7 293.7 L217.9 293.9 L218.1 293.4 L218.4 293.3 L218.6 293.4 L218.8 293.0 L219.0 294.3 L219.3 293.9 L219.5 293.9 L219.7 293.9 L219.9 294.4 L220.1 294.2 L220.4 294.4 L220.6 293.4 L220.8 294.4 L221.0 295.5 L221.3 294.0 L221.5 294.3 L221.7 295.0 L221.9 295.1 L222.1 295.0 L222.4 293.8 L222.6 295.1 L222.8 294.2 L223.0 294.5 L223.2 295.4 L223.5 295.0 L223.7 295.7 L223.9 297.1 L224.1 295.8 L224.4 295.9 L224.6 295.0 L224.8 295.3 L225.0 295.1 L225.2 295.5 L225.5 295.3 L225.7 295.6 L225.9 295.9 L226.1 295.6 L226.4 295.4 L226.6 295.5 L226.8 296.6 L227.0 296.5 L227.2 297.1 L227.5 297.2 L227.7 296.5 L227.9 297.1 L228.1 296.0 L228.4 298.2 L228.6 297.7 L228.8 297.0 L229.0 296.5 L229.2 297.5 L229.5 296.3 L229.7 297.0 L229.9 297.9 L230.1 297.6 L230.3 297.4 L230.6 298.2 L230.8 297.2 L231.0 298.0 L231.2 297.7 L231.5 297.6 L231.7 298.4 L231.9 297.6 L232.1 299.3 L232.3 298.0 L232.6 299.5 L232.8 297.9 L233.0 298.9 L233.2 298.0 L233.5 298.0 L233.7 298.9 L233.9 299.2 L234.1 298.2 L234.3 299.7 L234.6 298.7 L234.8 299.2 L235.0 299.4 L235.2 299.6 L235.4 298.4 L235.7 300.3 L235.9 299.8 L236.1 299.4 L236.3 299.1 L236.6 298.9 L236.8 299.1 L237.0 300.2 L237.2 299.8 L237.4 299.5 L237.7 299.9 L237.9 301.1 L238.1 300.1 L238.3 300.0 L238.6 301.2 L238.8 300.7 L239.0 300.6 L239.2 300.3 L239.4 299.9 L239.7 300.2 L239.9 300.6 L240.1 300.8 L240.3 301.2 L240.6 301.4 L240.8 301.3 L241.0 301.3 L241.2 300.8 L241.4 300.2 L241.7 301.2 L241.9 301.0 L242.1 301.2 L242.3 301.5 L242.5 301.1 L242.8 301.2 L243.0 301.8 L243.2 302.0 L243.4 301.7 L243.7 302.3 L243.9 302.0 L244.1 301.7 L244.3 302.3 L244.5 303.3 L244.8 302.1 L245.0 303.1 L245.2 303.3 L245.4 303.4 L245.7 302.3 L245.9 303.8 L246.1 302.9 L246.3 302.8 L246.5 302.8 L246.8 303.3 L247.0 303.1 L247.2 303.1 L247.4 303.9 L247.6 302.9 L247.9 302.8 L248.1 303.8 L248.3 303.9 L248.5 304.1 L248.8 303.1 L249.0 304.3 L249.2 304.0 L249.4 304.7 L249.6 303.3 L249.9 304.1 L250.1 303.9 L250.3 303.3 L250.5 303.8 L250.8 304.8 L251.0 304.0 L251.2 304.0 L251.4 304.9 L251.6 305.0 L251.9 305.1 L252.1 304.2 L252.3 304.6 L252.5 305.3 L252.7 304.5 L253.0 304.5 L253.2 305.4 L253.4 305.8 L253.6 304.5 L253.9 303.8 L254.1 304.5 L254.3 304.7 L254.5 305.2 L254.7 305.7 L255.0 305.4 L255.2 305.1 L255.4 305.6 L255.6 305.1 L255.9 305.7 L256.1 305.4 L256.3 307.2 L256.5 306.3 L256.7 305.5 L257.0 305.5 L257.2 305.8 L257.4 305.3 L257.6 305.8 L257.9 305.9 L258.1 306.8 L258.3 306.2 L258.5 306.0 L258.7 305.8 L259.0 306.0 L259.2 306.6 L259.4 306.6 L259.6 307.3 L259.8 306.5 L260.1 307.4 L260.3 307.0 L260.5 307.0 L260.7 306.0 L261.0 306.5 L261.2 307.5 L261.4 307.9 L261.6 307.4 L261.8 307.7 L262.1 307.2 L262.3 307.3 L262.5 307.2 L262.7 308.0 L263.0 307.8 L263.2 307.6 L263.4 307.6 L263.6 308.1 L263.8 308.0 L264.1 307.5 L264.3 308.8 L264.5 308.2 L264.7 308.1 L264.9 308.9 L265.2 308.7 L265.4 308.2 L265.6 308.6 L265.8 307.8 L266.1 308.1 L266.3 307.4 L266.5 309.1 L266.7 307.7 L266.9 309.0 L267.2 308.3 L267.4 308.3 L267.6 308.7 L267.8 309.0 L268.1 309.2 L268.3 309.9 L268.5 309.2 L268.7 309.5 L268.9 308.9 L269.2 309.6 L269.4 309.3 L269.6 309.1 L269.8 309.3 L270.0 309.4 L270.3 309.6 L270.5 309.7 L270.7 309.3 L270.9 309.3 L271.2 310.1 L271.4 308.9 L271.6 309.5 L271.8 310.6 L272.0 308.6 L272.3 309.6 L272.5 310.4 L272.7 309.3 L272.9 311.4 L273.2 308.9 L273.4 310.9 L273.6 311.0 L273.8 310.8 L274.0 310.3 L274.3 310.6 L274.5 310.1 L274.7 310.9 L274.9 310.1 L275.2 310.5 L275.4 311.2 L275.6 310.2 L275.8 310.6 L276.0 310.9 L276.3 310.3 L276.5 311.5 L276.7 311.2 L276.9 310.4 L277.1 311.1 L277.4 310.8 L277.6 310.9 L277.8 311.3 L278.0 311.0 L278.3 311.8 L278.5 311.1 L278.7 311.9 L278.9 311.5 L279.1 312.0 L279.4 311.4 L279.6 311.4 L279.8 311.2 L280.0 312.0 L280.3 312.3 L280.5 312.9 L280.7 312.5 L280.9 312.1 L281.1 311.9 L281.4 312.2 L281.6 312.1 L281.8 312.8 L282.0 312.7 L282.2 311.9 L282.5 312.0 L282.7 313.0 L282.9 312.6 L283.1 312.3 L283.4 313.1 L283.6 312.4 L283.8 312.5 L284.0 312.4 L284.2 311.8 L284.5 313.1 L284.7 312.2 L284.9 312.6 L285.1 312.5 L285.4 313.3 L285.6 312.9 L285.8 313.0 L286.0 312.3 L286.2 313.1 L286.5 312.5 L286.7 313.4 L286.9 313.4 L287.1 313.3 L287.3 314.3 L287.6 313.6 L287.8 313.7 L288.0 313.6 L288.2 313.4 L288.5 314.0 L288.7 314.1 L288.9 313.1 L289.1 314.2 L289.3 314.0 L289.6 314.2 L289.8 314.1 L290.0 313.3 L290.2 313.4 L290.5 314.8 L290.7 314.1 L290.9 313.4 L291.1 314.3 L291.3 314.0 L291.6 313.4 L291.8 313.2 L292.0 313.6 L292.2 314.5 L292.5 314.4 L292.7 314.3 L292.9 314.6 L293.1 314.8 L293.3 313.6 L293.6 314.5 L293.8 314.3 L294.0 314.1 L294.2 314.5 L294.4 314.7 L294.7 314.7 L294.9 314.2 L295.1 314.7 L295.3 315.9 L295.6 314.5 L295.8 314.3 L296.0 315.2 L296.2 315.4 L296.4 315.4 L296.7 314.7 L296.9 315.7 L297.1 314.9 L297.3 314.8 L297.6 315.1 L297.8 315.4 L298.0 315.8 L298.2 315.8 L298.4 315.5 L298.7 316.0 L298.9 315.7 L299.1 316.1 L299.3 315.1 L299.5 315.0 L299.8 316.1 L300.0 315.2 L300.2 315.7 L300.4 315.9 L300.7 315.7 L300.9 315.8 L301.1 316.6 L301.3 315.0 L301.5 316.5 L301.8 317.2 L302.0 316.2 L302.2 316.2 L302.4 316.6 L302.7 317.1 L302.9 315.8 L303.1 316.4 L303.3 316.3 L303.5 316.7 L303.8 316.6 L304.0 316.8 L304.2 316.4 L304.4 316.6 L304.7 316.4 L304.9 316.4 L305.1 316.7 L305.3 316.7 L305.5 316.3 L305.8 317.5 L306.0 316.8 L306.2 316.3 L306.4 317.4 L306.6 316.7 L306.9 317.3 L307.1 317.1 L307.3 317.2 L307.5 317.2 L307.8 316.9 L308.0 317.2 L308.2 318.1 L308.4 316.3 L308.6 317.4 L308.9 317.6 L309.1 317.0 L309.3 316.9 L309.5 318.4 L309.8 317.4 L310.0 318.5 L310.2 317.8 L310.4 317.7 L310.6 317.9 L310.9 318.0 L311.1 318.2 L311.3 318.0 L311.5 317.9 L311.7 317.9 L312.0 318.5 L312.2 318.3 L312.4 317.5 L312.6 317.7 L312.9 318.2 L313.1 317.8 L313.3 317.9 L313.5 317.7 L313.7 318.1 L314.0 318.4 L314.2 318.7 L314.4 318.3 L314.6 319.2 L314.9 318.3 L315.1 319.7 L315.3 318.8 L315.5 318.7 L315.7 318.3 L316.0 317.3 L316.2 318.5 L316.4 318.7 L316.6 319.4 L316.8 318.1 L317.1 319.5 L317.3 318.6 L317.5 319.1 L317.7 317.7 L318.0 318.9 L318.2 318.7 L318.4 319.2 L318.6 319.0 L318.8 318.5 L319.1 319.4 L319.3 319.3 L319.5 319.3 L319.7 319.5 L320.0 319.6 L320.2 319.2 L320.4 318.6 L320.6 318.7 L320.8 319.8 L321.1 319.6 L321.3 319.4 L321.5 319.2 L321.7 319.4 L322.0 319.4 L322.2 319.3 L322.4 319.2 L322.6 320.4 L322.8 319.7 L323.1 319.4 L323.3 319.1 L323.5 319.4 L323.7 320.0 L323.9 320.0 L324.2 319.7 L324.4 319.8 L324.6 319.7 L324.8 319.4 L325.1 320.4 L325.3 320.1 L325.5 321.0 L325.7 319.7 L325.9 320.0 L326.2 320.4 L326.4 320.0 L326.6 319.5 L326.8 319.8 L327.1 320.2 L327.3 320.3 L327.5 320.2 L327.7 320.7 L327.9 320.7 L328.2 320.5 L328.4 320.4 L328.6 320.3 L328.8 320.6 L329.0 320.8 L329.3 320.5 L329.5 320.7 L329.7 320.4 L329.9 320.0 L330.2 320.2 L330.4 320.9 L330.6 320.8 L330.8 321.3 L331.0 320.7 L331.3 321.1 L331.5 321.3 L331.7 321.2 L331.9 320.6 L332.2 320.8 L332.4 320.9 L332.6 320.5 L332.8 321.1 L333.0 321.4 L333.3 320.8 L333.5 321.8 L333.7 320.9 L333.9 321.0 L334.1 321.0 L334.4 320.9 L334.6 321.3 L334.8 321.2 L335.0 321.9 L335.3 321.5 L335.5 321.5 L335.7 321.2 L335.9 320.8 L336.1 321.3 L336.4 321.1 L336.6 321.8 L336.8 321.5 L337.0 322.1 L337.3 321.8 L337.5 321.9 L337.7 321.7 L337.9 321.7 L338.1 321.9 L338.4 322.0 L338.6 321.4 L338.8 321.9 L339.0 322.8 L339.3 321.7 L339.5 321.7 L339.7 321.6 L339.9 321.3 L340.1 322.3 L340.4 321.9 L340.6 322.0 L340.8 322.7 L341.0 323.0 L341.2 321.7 L341.5 322.4 L341.7 322.3 L341.9 322.2 L342.1 322.3 L342.4 322.1 L342.6 322.8 L342.8 322.4 L343.0 322.4 L343.2 322.7 L343.5 322.6 L343.7 322.5 L343.9 322.5 L344.1 323.0 L344.4 322.6 L344.6 322.4 L344.8 322.1 L345.0 322.3 L345.2 322.1 L345.5 322.5 L345.7 322.6 L345.9 321.8 L346.1 322.6 L346.3 322.9 L346.6 322.7 L346.8 322.3 L347.0 323.2 L347.2 322.4 L347.5 322.3 L347.7 322.3 L347.9 322.8 L348.1 323.2 L348.3 323.3 L348.6 322.9 L348.8 322.4 L349.0 322.7 L349.2 322.6 L349.5 322.9 L349.7 322.3 L349.9 323.1 L350.1 323.3 L350.3 323.0 L350.6 323.3 L350.8 322.8 L351.0 322.6 L351.2 322.9 L351.4 323.6 L351.7 323.6 L351.9 323.1 L352.1 323.7 L352.3 323.2 L352.6 323.9 L352.8 323.5 L353.0 323.2 L353.2 323.7 L353.4 323.1 L353.7 323.1 L353.9 322.9 L354.1 323.6 L354.3 323.5 L354.6 323.5 L354.8 323.4 L355.0 324.1 L355.2 323.4 L355.4 323.3 L355.7 324.1 L355.9 324.2 L356.1 323.8 L356.3 323.0 L356.6 323.5 L356.8 324.0 L357.0 323.8 L357.2 324.4 L357.4 323.3 L357.7 324.1 L357.9 323.6 L358.1 324.4 L358.3 323.9 L358.5 324.3 L358.8 323.7 L359.0 323.4 L359.2 323.6 L359.4 323.8 L359.7 323.7 L359.9 324.5 L360.1 324.6 L360.3 324.2 L360.5 323.7 L360.8 324.1 L361.0 323.9 L361.2 324.7 L361.4 324.3 L361.7 324.4 L361.9 324.1 L362.1 323.5 L362.3 324.0 L362.5 323.9 L362.8 324.5 L363.0 324.4 L363.2 324.1 L363.4 324.3 L363.6 325.0 L363.9 324.1 L364.1 324.1 L364.3 324.4 L364.5 324.2 L364.8 324.4 L365.0 324.7 L365.2 325.2 L365.4 323.9 L365.6 324.6 L365.9 324.6 L366.1 324.6 L366.3 324.6 L366.5 324.6 L366.8 325.1 L367.0 324.6 L367.2 324.7 L367.4 324.8 L367.6 324.8 L367.9 324.8 L368.1 325.2 L368.3 324.9 L368.5 324.9 L368.8 324.9 L369.0 324.6 L369.2 324.6 L369.4 324.6 L369.6 325.0 L369.9 324.7 L370.1 324.6 L370.3 325.1 L370.5 325.2 L370.7 324.4 L371.0 325.7 L371.2 325.1 L371.4 325.1 L371.6 325.5 L371.9 325.2 L372.1 325.0 L372.3 326.0 L372.5 324.8 L372.7 325.2 L373.0 325.6 L373.2 324.9 L373.4 325.3 L373.6 325.5 L373.9 326.2 L374.1 325.0 L374.3 325.4 L374.5 325.6 L374.7 325.4 L375.0 325.0 L375.2 325.6 L375.4 325.5 L375.6 325.7 L375.8 325.9 L376.1 325.9 L376.3 325.7 L376.5 325.7 L376.7 325.2 L377.0 325.6 L377.2 325.7 L377.4 325.5 L377.6 325.7 L377.8 325.4 L378.1 326.2 L378.3 326.5 L378.5 325.6 L378.7 325.9 L379.0 325.7 L379.2 326.2 L379.4 326.0 L379.6 325.8 L379.8 325.8 L380.1 325.9 L380.3 325.5 L380.5 326.1 L380.7 325.7 L380.9 326.1 L381.2 326.0 L381.4 326.3 L381.6 326.0 L381.8 326.4 L382.1 325.7 L382.3 326.2 L382.5 326.0 L382.7 326.1 L382.9 326.1 L383.2 326.4 L383.4 325.4 L383.6 326.2 L383.8 325.6 L384.1 326.6 L384.3 325.5 L384.5 325.9 L384.7 325.6 L384.9 326.8 L385.2 325.8 L385.4 326.3 L385.6 326.1 L385.8 325.7 L386.1 326.2 L386.3 326.6 L386.5 326.3 L386.7 326.7 L386.9 326.3 L387.2 326.4 L387.4 326.3 L387.6 326.6 L387.8 327.1 L388.0 326.6 L388.3 326.6 L388.5 326.3 L388.7 326.3 L388.9 327.0 L389.2 326.2 L389.4 326.3 L389.6 326.6 L389.8 326.5 L390.0 327.3 L390.3 325.8 L390.5 326.8 L390.7 326.9 L390.9 326.3 L391.2 326.5 L391.4 326.9 L391.6 327.3 L391.8 326.4 L392.0 326.2 L392.3 327.1 L392.5 327.3 L392.7 326.7 L392.9 326.1 L393.1 327.3 L393.4 326.8 L393.6 327.2 L393.8 326.9 L394.0 326.8 L394.3 326.8 L394.5 327.4 L394.7 327.4 L394.9 326.2 L395.1 326.7 L395.4 327.6 L395.6 326.9 L395.8 326.6 L396.0 327.0 L396.3 327.0 L396.5 327.0 L396.7 326.9 L396.9 327.0 L397.1 327.0 L397.4 327.2 L397.6 326.9 L397.8 327.1 L398.0 327.1 L398.2 327.6 L398.5 327.3 L398.7 327.2 L398.9 327.4 L399.1 327.4 L399.4 327.6 L399.6 327.4 L399.8 327.9 L400.0 327.7 L400.2 327.3 L400.5 327.2 L400.7 327.6 L400.9 327.5 L401.1 327.3 L401.4 326.9 L401.6 326.8 L401.8 327.5 L402.0 327.7 L402.2 327.7 L402.5 327.0 L402.7 327.8 L402.9 327.3 L403.1 327.6 L403.4 327.7 L403.6 327.3 L403.8 327.3 L404.0 326.9 L404.2 327.3 L404.5 327.0 L404.7 327.7 L404.9 327.6 L405.1 327.9 L405.3 327.8 L405.6 327.4 L405.8 327.8 L406.0 327.6 L406.2 327.9 L406.5 327.8 L406.7 327.4 L406.9 327.7 L407.1 327.8 L407.3 327.7 L407.6 328.1 L407.8 328.3 L408.0 327.7 L408.2 327.7 L408.5 327.1 L408.7 327.8 L408.9 327.7 L409.1 327.2 L409.3 328.0 L409.6 328.1 L409.8 327.7 L410.0 327.8 L410.2 327.6 L410.4 328.2 L410.7 327.5 L410.9 327.9 L411.1 328.6 L411.3 328.0 L411.6 328.2 L411.8 328.0 L412.0 327.7 L412.2 328.0 L412.4 328.2 L412.7 327.7 L412.9 328.2 L413.1 328.5 L413.3 328.4 L413.6 327.6 L413.8 327.8 L414.0 327.6 L414.2 328.5 L414.4 328.4 L414.7 328.4 L414.9 327.9 L415.1 327.8 L415.3 328.2 L415.6 328.3 L415.8 328.0 L416.0 328.3 L416.2 328.5 L416.4 328.4 L416.7 328.0 L416.9 327.6 L417.1 328.2 L417.3 328.4 L417.5 328.3 L417.8 328.2 L418.0 328.1 L418.2 328.6 L418.4 328.4 L418.7 328.4 L418.9 328.1 L419.1 328.2 L419.3 328.5 L419.5 328.1 L419.8 328.1 L420.0 328.4 L420.2 328.9 L420.4 328.6 L420.7 329.0 L420.9 328.5 L421.1 328.4 L421.3 328.1 L421.5 328.4 L421.8 329.0 L422.0 328.7 L422.2 328.8 L422.4 328.8 L422.6 328.6 L422.9 328.6 L423.1 328.7 L423.3 328.8 L423.5 328.8 L423.8 328.8 L424.0 328.7 L424.2 328.4 L424.4 328.6 L424.6 328.4 L424.9 329.0 L425.1 328.1 L425.3 328.7 L425.5 329.5 L425.8 328.7 L426.0 328.4 L426.2 328.8 L426.4 329.2 L426.6 328.8 L426.9 329.0 L427.1 328.9 L427.3 328.7 L427.5 329.8 L427.7 328.9 L428.0 328.7 L428.2 328.7 L428.4 329.0 L428.6 329.0 L428.9 329.1 L429.1 329.0 L429.3 328.5 L429.5 329.1 L429.7 328.9 L430.0 328.9 L430.2 328.5 L430.4 328.8 L430.6 328.8 L430.9 329.0 L431.1 328.6 L431.3 329.0 L431.5 329.1 L431.7 328.7 L432.0 328.9 L432.2 328.8 L432.4 329.4 L432.6 328.3 L432.9 329.0 L433.1 328.6 L433.3 329.0 L433.5 329.4 L433.7 328.9 L434.0 329.2 L434.2 328.9 L434.4 329.8 L434.6 329.5 L434.8 329.5 L435.1 328.8 L435.3 328.9 L435.5 329.5 L435.7 329.2 L436.0 329.2 L436.2 329.3 L436.4 328.9 L436.6 329.5 L436.8 329.3 L437.1 329.4 L437.3 329.1 L437.5 329.5 L437.7 329.1 L438.0 329.6 L438.2 329.7 L438.4 329.6 L438.6 329.5 L438.8 329.6 L439.1 328.6 L439.3 329.6 L439.5 329.3 L439.7 329.4 L439.9 329.3 L440.2 329.0 L440.4 329.3 L440.6 329.6 L440.8 329.9 L441.1 329.3 L441.3 329.2 L441.5 329.9 L441.7 329.2 L441.9 330.1 L442.2 329.5 L442.4 329.2 L442.6 329.8 L442.8 330.0 L443.1 329.1 L443.3 330.0 L443.5 329.5 L443.7 330.0 L443.9 329.5 L444.2 329.1 L444.4 329.7 L444.6 329.9 L444.8 330.2 L445.0 330.1 L445.3 329.8 L445.5 329.6 L445.7 329.5 L445.9 329.6 L446.2 329.4 L446.4 329.6 L446.6 328.9 L446.8 329.7 L447.0 329.7 L447.3 330.5 L447.5 329.9 L447.7 329.6 L447.9 329.9 L448.2 329.4 L448.4 329.6 L448.6 329.2 L448.8 330.2 L449.0 329.9 L449.3 329.4 L449.5 329.8 L449.7 330.1 L449.9 330.0 L450.2 329.9 L450.4 329.6 L450.6 329.6 L450.8 329.9 L451.0 330.1 L451.3 329.6 L451.5 329.5 L451.7 330.2 L451.9 329.6 L452.1 330.2 L452.4 330.0 L452.6 330.2 L452.8 330.4 L453.0 330.1 L453.3 330.2 L453.5 329.7 L453.7 329.7 L453.9 330.1 L454.1 330.4 L454.4 330.4 L454.6 330.7 L454.8 330.1 L455.0 330.1 L455.3 330.3 L455.5 330.0 L455.7 330.0 L455.9 329.7 L456.1 330.3 L456.4 329.7 L456.6 330.2 L456.8 329.6 L457.0 330.4 L457.2 329.8 L457.5 330.3 L457.7 329.6 L457.9 330.0 L458.1 330.4 L458.4 329.9 L458.6 330.1 L458.8 330.0 L459.0 329.5 L459.2 330.2 L459.5 330.3 L459.7 329.8 L459.9 330.3 L460.1 329.9 L460.4 329.9 L460.6 330.2 L460.8 330.0 L461.0 330.9 L461.2 329.8 L461.5 330.4 L461.7 330.5 L461.9 329.7 L462.1 329.7 L462.3 330.4 L462.6 330.1 L462.8 330.4 L463.0 330.6 L463.2 330.2 L463.5 330.0 L463.7 329.5 L463.9 330.4 L464.1 330.0 L464.3 330.4 L464.6 330.4 L464.8 329.9 L465.0 330.8 L465.2 330.6 L465.5 330.6 L465.7 330.0 L465.9 330.2 L466.1 330.2 L466.3 330.3 L466.6 330.1 L466.8 330.5 L467.0 330.5 L467.2 330.5 L467.5 330.3 L467.7 330.8 L467.9 330.5 L468.1 329.7 L468.3 330.3 L468.6 330.4 L468.8 330.7 L469.0 330.4 L469.2 330.4 L469.4 330.3 L469.7 330.7 L469.9 330.4 L470.1 330.3 L470.3 330.3 L470.6 330.7 L470.8 330.4 L471.0 330.0 L471.2 330.7 L471.4 330.3 L471.7 330.6 L471.9 330.6 L472.1 330.9 L472.3 330.9 L472.6 330.4 L472.8 330.5 L473.0 330.2 L473.2 331.1 L473.4 330.7 L473.7 331.0 L473.9 330.5 L474.1 330.0 L474.3 331.0 L474.5 330.6 L474.8 330.7 L475.0 330.6 L475.2 330.8 L475.4 330.8 L475.7 330.2 L475.9 331.0 L476.1 330.5 L476.3 330.5 L476.5 331.2 L476.8 330.9 L477.0 330.6 L477.2 330.2 L477.4 330.7 L477.7 330.9 L477.9 330.7 L478.1 330.4 L478.3 330.5 L478.5 330.4 L478.8 330.8 L479.0 331.0 L479.2 331.0 L479.4 330.6 L479.7 330.8 L479.9 330.9 L480.1 330.6 L480.3 330.7 L480.5 331.4 L480.8 330.9 L481.0 331.0 L481.2 330.7 L481.4 330.8 L481.6 330.3 L481.9 330.8 L482.1 331.2 L482.3 331.4 L482.5 331.2 L482.8 331.0 L483.0 330.9 L483.2 330.7 L483.4 330.8 L483.6 331.0 L483.9 330.7 L484.1 331.1 L484.3 330.6 L484.5 330.4 L484.8 330.6 L485.0 330.4 L485.2 330.5 L485.4 331.2 L485.6 330.9 L485.9 331.0 L486.1 331.3 L486.3 331.3 L486.5 330.8 L486.7 331.3 L487.0 331.1 L487.2 331.0 L487.4 331.1 L487.6 330.6 L487.9 330.8 L488.1 331.0 L488.3 331.2 L488.5 330.9 L488.7 331.0 L489.0 331.3 L489.2 331.4 L489.4 331.2 L489.6 331.4 L489.9 330.9 L490.1 330.9 L490.3 331.1 L490.5 331.0 L490.7 330.9 L491.0 331.5 L491.2 331.0 L491.4 330.8 L491.6 331.2 L491.8 331.6 L492.1 331.1 L492.3 331.4 L492.5 331.0 L492.7 331.0 L493.0 330.9 L493.2 331.1 L493.4 331.6 L493.6 330.8 L493.8 331.6 L494.1 330.9 L494.3 331.1 L494.5 331.4 L494.7 331.3 L495.0 331.2 L495.2 330.7 L495.4 331.3 L495.6 330.9 L495.8 331.9 L496.1 331.1 L496.3 331.2 L496.5 330.9 L496.7 331.1 L497.0 330.8 L497.2 331.5 L497.4 331.1 L497.6 331.4 L497.8 331.0 L498.1 331.1 L498.3 331.6 L498.5 331.0 L498.7 330.8 L498.9 331.3 L499.2 330.9 L499.4 331.1 L499.6 331.5 L499.8 331.0 L500.1 331.5 L500.3 331.1 L500.5 331.7 L500.7 331.6 L500.9 331.2 L501.2 331.2 L501.4 331.1 L501.6 331.3 L501.8 331.6 L502.1 330.9 L502.3 331.6 L502.5 331.0 L502.7 331.1 L502.9 330.9 L503.2 331.9 L503.4 331.3 L503.6 331.4 L503.8 331.2 L504.0 331.6 L504.3 330.8 L504.5 331.4 L504.7 331.9 L504.9 331.3 L505.2 331.4 L505.4 331.6 L505.6 331.2 L505.8 331.4 L506.0 331.6 L506.3 331.4 L506.5 331.5 L506.7 331.3 L506.9 331.5 L507.2 331.4 L507.4 331.8 L507.6 331.6 L507.8 331.4 L508.0 330.8 L508.3 331.6 L508.5 331.6 L508.7 331.2 L508.9 330.9 L509.1 331.2 L509.4 331.7 L509.6 331.2 L509.8 331.3 L510.0 331.5 L510.3 331.8 L510.5 331.5 L510.7 331.5 L510.9 331.3 L511.1 331.9 L511.4 331.8 L511.6 331.5 L511.8 331.1 L512.0 331.3 L512.3 331.7 L512.5 331.3 L512.7 331.8 L512.9 331.6 L513.1 331.6 L513.4 331.7 L513.6 331.7 L513.8 331.3 L514.0 331.5 L514.3 332.2 L514.5 331.2 L514.7 331.4 L514.9 331.8 L515.1 331.5 L515.4 331.4 L515.6 331.2 L515.8 331.7 L516.0 331.8 L516.2 331.9 L516.5 331.6 L516.7 331.9 L516.9 331.3 L517.1 331.6 L517.4 331.4 L517.6 331.7 L517.8 331.8" stroke="#ed1c24" stroke-width="1.6" stroke-dasharray="3.3 1.3"/>
<path d="M76.4 333.2 L76.6 333.0 L76.9 333.2 L77.1 333.0 L77.3 332.9 L77.5 333.0 L77.7 332.8 L78.0 333.0 L78.2 333.0 L78.4 332.9 L78.6 333.0 L78.9 332.8 L79.1 332.8 L79.3 332.5 L79.5 332.7 L79.7 332.5 L80.0 332.5 L80.2 332.5 L80.4 332.5 L80.6 332.1 L80.9 332.0 L81.1 332.1 L81.3 332.2 L81.5 332.1 L81.7 332.1 L82.0 332.1 L82.2 331.8 L82.4 331.6 L82.6 331.2 L82.9 331.1 L83.1 331.1 L83.3 331.1 L83.5 331.0 L83.7 330.8 L84.0 330.6 L84.2 330.6 L84.4 330.3 L84.6 330.2 L84.8 330.0 L85.1 329.7 L85.3 329.4 L85.5 329.5 L85.7 329.3 L86.0 329.0 L86.2 328.7 L86.4 329.1 L86.6 328.2 L86.8 328.1 L87.1 328.0 L87.3 327.4 L87.5 327.5 L87.7 327.7 L88.0 327.2 L88.2 326.9 L88.4 326.6 L88.6 326.2 L88.8 326.2 L89.1 325.6 L89.3 325.2 L89.5 325.1 L89.7 325.0 L89.9 324.6 L90.2 324.4 L90.4 323.3 L90.6 323.9 L90.8 323.9 L91.1 323.3 L91.3 322.5 L91.5 322.0 L91.7 322.0 L91.9 321.3 L92.2 321.5 L92.4 320.7 L92.6 320.8 L92.8 320.6 L93.1 319.2 L93.3 319.5 L93.5 318.9 L93.7 318.3 L93.9 318.1 L94.2 317.9 L94.4 317.9 L94.6 316.7 L94.8 317.1 L95.0 317.0 L95.3 316.1 L95.5 315.7 L95.7 315.1 L95.9 314.3 L96.2 314.5 L96.4 314.0 L96.6 313.7 L96.8 313.9 L97.0 312.8 L97.3 312.3 L97.5 312.2 L97.7 310.8 L97.9 310.4 L98.2 310.2 L98.4 309.7 L98.6 309.7 L98.8 308.9 L99.0 309.2 L99.3 308.6 L99.5 307.9 L99.7 307.0 L99.9 306.9 L100.2 306.5 L100.4 305.3 L100.6 305.4 L100.8 305.0 L101.0 304.3 L101.3 304.4 L101.5 303.7 L101.7 302.5 L101.9 302.4 L102.1 301.5 L102.4 301.5 L102.6 300.5 L102.8 300.7 L103.0 300.0 L103.3 299.7 L103.5 298.7 L103.7 297.7 L103.9 298.5 L104.1 297.2 L104.4 297.3 L104.6 296.4 L104.8 296.0 L105.0 295.9 L105.3 294.8 L105.5 294.7 L105.7 293.1 L105.9 293.5 L106.1 292.5 L106.4 292.1 L106.6 291.6 L106.8 291.2 L107.0 291.2 L107.2 289.3 L107.5 289.5 L107.7 288.7 L107.9 288.9 L108.1 287.7 L108.4 287.6 L108.6 286.7 L108.8 286.6 L109.0 286.2 L109.2 285.1 L109.5 284.8 L109.7 283.6 L109.9 283.8 L110.1 283.6 L110.4 282.4 L110.6 282.6 L110.8 280.7 L111.0 280.3 L111.2 279.9 L111.5 279.8 L111.7 279.5 L111.9 279.0 L112.1 278.4 L112.3 278.3 L112.6 277.2 L112.8 276.3 L113.0 275.8 L113.2 276.8 L113.5 274.3 L113.7 274.7 L113.9 275.0 L114.1 274.0 L114.3 272.9 L114.6 272.8 L114.8 272.7 L115.0 272.3 L115.2 270.8 L115.5 271.1 L115.7 270.3 L115.9 270.2 L116.1 269.9 L116.3 268.5 L116.6 267.5 L116.8 267.9 L117.0 268.0 L117.2 267.0 L117.5 266.3 L117.7 266.9 L117.9 264.7 L118.1 265.2 L118.3 264.0 L118.6 263.8 L118.8 263.3 L119.0 263.5 L119.2 261.9 L119.4 261.6 L119.7 260.6 L119.9 261.1 L120.1 260.2 L120.3 260.1 L120.6 258.9 L120.8 258.8 L121.0 259.0 L121.2 258.0 L121.4 257.9 L121.7 257.4 L121.9 256.5 L122.1 255.4 L122.3 256.3 L122.6 255.4 L122.8 255.4 L123.0 253.4 L123.2 253.2 L123.4 252.5 L123.7 252.7 L123.9 253.2 L124.1 252.5 L124.3 251.8 L124.5 251.5 L124.8 251.4 L125.0 250.4 L125.2 250.3 L125.4 249.8 L125.7 248.2 L125.9 248.7 L126.1 249.2 L126.3 247.9 L126.5 247.6 L126.8 246.9 L127.0 246.6 L127.2 247.0 L127.4 245.9 L127.7 245.1 L127.9 243.6 L128.1 244.6 L128.3 243.5 L128.5 243.2 L128.8 244.2 L129.0 243.8 L129.2 242.0 L129.4 243.1 L129.6 242.5 L129.9 241.5 L130.1 242.0 L130.3 240.3 L130.5 240.2 L130.8 239.7 L131.0 239.6 L131.2 240.3 L131.4 238.8 L131.6 238.5 L131.9 238.3 L132.1 238.6 L132.3 237.9 L132.5 238.3 L132.8 237.1 L133.0 236.5 L133.2 236.6 L133.4 236.5 L133.6 235.7 L133.9 236.1 L134.1 236.6 L134.3 235.0 L134.5 235.0 L134.8 235.4 L135.0 234.1 L135.2 233.7 L135.4 233.2 L135.6 233.8 L135.9 233.6 L136.1 232.9 L136.3 232.7 L136.5 233.1 L136.7 232.7 L137.0 231.1 L137.2 231.6 L137.4 231.4 L137.6 231.5 L137.9 230.8 L138.1 230.3 L138.3 230.1 L138.5 229.1 L138.7 229.9 L139.0 229.3 L139.2 229.7 L139.4 228.6 L139.6 228.7 L139.9 228.2 L140.1 227.9 L140.3 228.7 L140.5 227.8 L140.7 228.1 L141.0 227.0 L141.2 227.5 L141.4 226.3 L141.6 226.8 L141.8 226.6 L142.1 227.0 L142.3 226.6 L142.5 226.2 L142.7 226.6 L143.0 226.0 L143.2 226.0 L143.4 226.0 L143.6 225.4 L143.8 225.1 L144.1 225.2 L144.3 224.7 L144.5 224.9 L144.7 225.2 L145.0 224.9 L145.2 224.0 L145.4 223.4 L145.6 223.9 L145.8 223.8 L146.1 224.3 L146.3 223.3 L146.5 223.3 L146.7 223.7 L147.0 222.9 L147.2 222.9 L147.4 223.9 L147.6 223.6 L147.8 223.0 L148.1 222.7 L148.3 221.9 L148.5 222.7 L148.7 222.3 L148.9 222.3 L149.2 221.7 L149.4 221.9 L149.6 221.7 L149.8 221.9 L150.1 222.5 L150.3 221.8 L150.5 220.6 L150.7 220.9 L150.9 220.4 L151.2 220.8 L151.4 221.5 L151.6 221.4 L151.8 220.7 L152.1 221.2 L152.3 220.5 L152.5 220.1 L152.7 220.0 L152.9 220.3 L153.2 221.6 L153.4 219.9 L153.6 221.4 L153.8 221.4 L154.0 220.5 L154.3 220.5 L154.5 220.1 L154.7 220.5 L154.9 220.8 L155.2 220.4 L155.4 221.0 L155.6 221.0 L155.8 220.5 L156.0 220.5 L156.3 220.3 L156.5 220.5 L156.7 219.7 L156.9 220.5 L157.2 220.4 L157.4 219.8 L157.6 221.5 L157.8 219.7 L158.0 219.8 L158.3 220.5 L158.5 219.2 L158.7 219.9 L158.9 219.5 L159.1 219.8 L159.4 220.3 L159.6 220.6 L159.8 221.1 L160.0 220.9 L160.3 221.2 L160.5 220.9 L160.7 220.3 L160.9 221.2 L161.1 220.3 L161.4 220.3 L161.6 221.6 L161.8 221.2 L162.0 220.9 L162.3 221.3 L162.5 221.4 L162.7 220.2 L162.9 221.0 L163.1 220.4 L163.4 221.2 L163.6 220.8 L163.8 222.0 L164.0 221.6 L164.3 220.9 L164.5 221.4 L164.7 220.8 L164.9 221.6 L165.1 222.0 L165.4 221.9 L165.6 220.7 L165.8 221.7 L166.0 222.3 L166.2 222.2 L166.5 222.8 L166.7 221.5 L166.9 222.6 L167.1 222.1 L167.4 222.6 L167.6 222.9 L167.8 223.1 L168.0 222.5 L168.2 223.0 L168.5 222.4 L168.7 222.3 L168.9 223.5 L169.1 223.3 L169.4 222.5 L169.6 223.1 L169.8 223.7 L170.0 224.7 L170.2 224.5 L170.5 224.5 L170.7 223.1 L170.9 224.2 L171.1 224.7 L171.3 224.7 L171.6 224.9 L171.8 224.6 L172.0 225.9 L172.2 225.9 L172.5 225.1 L172.7 224.7 L172.9 226.6 L173.1 225.2 L173.3 226.4 L173.6 226.9 L173.8 225.4 L174.0 226.3 L174.2 226.1 L174.5 226.7 L174.7 226.7 L174.9 227.8 L175.1 227.2 L175.3 227.0 L175.6 227.8 L175.8 227.1 L176.0 227.3 L176.2 228.9 L176.4 227.3 L176.7 227.7 L176.9 228.1 L177.1 227.7 L177.3 227.2 L177.6 229.2 L177.8 228.3 L178.0 228.6 L178.2 228.9 L178.4 228.7 L178.7 228.8 L178.9 229.7 L179.1 231.1 L179.3 230.3 L179.6 230.5 L179.8 229.4 L180.0 230.4 L180.2 230.0 L180.4 231.2 L180.7 230.8 L180.9 231.2 L181.1 231.3 L181.3 231.2 L181.6 230.8 L181.8 232.2 L182.0 231.3 L182.2 231.6 L182.4 232.3 L182.7 232.2 L182.9 233.0 L183.1 233.6 L183.3 233.3 L183.5 233.5 L183.8 233.6 L184.0 234.2 L184.2 232.9 L184.4 234.3 L184.7 233.8 L184.9 233.9 L185.1 234.7 L185.3 234.7 L185.5 235.4 L185.8 235.9 L186.0 234.3 L186.2 235.7 L186.4 237.0 L186.7 236.6 L186.9 237.1 L187.1 236.6 L187.3 236.0 L187.5 236.3 L187.8 237.5 L188.0 237.9 L188.2 237.2 L188.4 237.6 L188.6 238.1 L188.9 237.2 L189.1 238.2 L189.3 239.5 L189.5 240.0 L189.8 239.0 L190.0 240.2 L190.2 239.2 L190.4 239.2 L190.6 238.7 L190.9 240.6 L191.1 240.1 L191.3 241.8 L191.5 240.9 L191.8 241.0 L192.0 240.2 L192.2 242.2 L192.4 241.4 L192.6 241.7 L192.9 240.9 L193.1 242.7 L193.3 243.0 L193.5 242.4 L193.8 243.0 L194.0 243.3 L194.2 243.9 L194.4 243.6 L194.6 244.7 L194.9 243.9 L195.1 243.9 L195.3 244.2 L195.5 243.3 L195.7 244.5 L196.0 245.7 L196.2 245.5 L196.4 245.1 L196.6 246.0 L196.9 245.0 L197.1 246.1 L197.3 246.7 L197.5 247.1 L197.7 246.5 L198.0 247.6 L198.2 248.3 L198.4 247.4 L198.6 248.2 L198.9 247.2 L199.1 247.3 L199.3 248.8 L199.5 248.8 L199.7 249.1 L200.0 248.9 L200.2 249.3 L200.4 250.1 L200.6 250.8 L200.8 250.0 L201.1 249.5 L201.3 251.2 L201.5 251.1 L201.7 251.4 L202.0 251.3 L202.2 252.7 L202.4 251.7 L202.6 252.2 L202.8 251.2 L203.1 252.1 L203.3 252.3 L203.5 252.8 L203.7 253.3 L204.0 252.9 L204.2 254.4 L204.4 253.2 L204.6 253.8 L204.8 254.3 L205.1 253.8 L205.3 255.0 L205.5 255.2 L205.7 255.0 L205.9 256.3 L206.2 255.6 L206.4 256.0 L206.6 255.6 L206.8 255.4 L207.1 256.2 L207.3 256.6 L207.5 256.7 L207.7 257.6 L207.9 256.2 L208.2 257.1 L208.4 257.0 L208.6 258.8 L208.8 258.1 L209.1 258.3 L209.3 258.3 L209.5 259.5 L209.7 259.1 L209.9 259.6 L210.2 258.7 L210.4 260.5 L210.6 260.4 L210.8 260.7 L211.1 261.2 L211.3 260.8 L211.5 261.0 L211.7 261.7 L211.9 261.8 L212.2 261.7 L212.4 262.0 L212.6 262.0 L212.8 262.8 L213.0 263.1 L213.3 262.9 L213.5 264.0 L213.7 262.6 L213.9 263.5 L214.2 264.6 L214.4 263.8 L214.6 263.5 L214.8 265.2 L215.0 265.0 L215.3 264.4 L215.5 265.5 L215.7 264.9 L215.9 265.0 L216.2 265.7 L216.4 265.8 L216.6 265.7 L216.8 266.3 L217.0 266.2 L217.3 267.0 L217.5 267.1 L217.7 267.7 L217.9 267.4 L218.1 267.2 L218.4 267.4 L218.6 268.1 L218.8 269.2 L219.0 269.1 L219.3 268.6 L219.5 269.6 L219.7 268.8 L219.9 270.1 L220.1 269.6 L220.4 270.4 L220.6 270.5 L220.8 270.3 L221.0 270.8 L221.3 270.4 L221.5 271.1 L221.7 271.8 L221.9 273.4 L222.1 272.1 L222.4 272.0 L222.6 271.7 L222.8 272.9 L223.0 271.8 L223.2 272.4 L223.5 273.2 L223.7 272.7 L223.9 274.2 L224.1 274.2 L224.4 273.6 L224.6 273.8 L224.8 273.7 L225.0 273.9 L225.2 274.9 L225.5 275.2 L225.7 275.3 L225.9 275.5 L226.1 275.3 L226.4 275.9 L226.6 275.3 L226.8 276.2 L227.0 277.1 L227.2 277.2 L227.5 276.6 L227.7 276.9 L227.9 277.8 L228.1 278.2 L228.4 277.0 L228.6 277.6 L228.8 278.1 L229.0 278.8 L229.2 278.1 L229.5 278.9 L229.7 278.7 L229.9 280.1 L230.1 279.4 L230.3 279.4 L230.6 279.5 L230.8 280.3 L231.0 280.4 L231.2 279.8 L231.5 280.5 L231.7 280.1 L231.9 280.5 L232.1 280.5 L232.3 280.7 L232.6 281.1 L232.8 281.2 L233.0 282.1 L233.2 282.4 L233.5 282.1 L233.7 281.9 L233.9 283.0 L234.1 281.9 L234.3 282.2 L234.6 283.5 L234.8 283.7 L235.0 284.0 L235.2 283.7 L235.4 283.4 L235.7 283.9 L235.9 284.6 L236.1 284.2 L236.3 284.4 L236.6 284.3 L236.8 284.6 L237.0 285.6 L237.2 285.7 L237.4 285.2 L237.7 285.4 L237.9 285.8 L238.1 286.4 L238.3 285.9 L238.6 286.5 L238.8 285.9 L239.0 286.4 L239.2 287.3 L239.4 287.7 L239.7 287.0 L239.9 287.4 L240.1 288.2 L240.3 287.9 L240.5 288.0 L240.8 288.6 L241.0 288.7 L241.2 289.2 L241.4 289.3 L241.7 288.9 L241.9 289.2 L242.1 289.4 L242.3 289.1 L242.5 289.4 L242.8 290.4 L243.0 289.5 L243.2 290.8 L243.4 290.6 L243.7 290.6 L243.9 291.1 L244.1 291.2 L244.3 291.7 L244.5 291.2 L244.8 291.5 L245.0 291.6 L245.2 292.7 L245.4 292.4 L245.7 291.9 L245.9 292.3 L246.1 292.3 L246.3 292.7 L246.5 293.0 L246.8 294.0 L247.0 292.5 L247.2 293.8 L247.4 293.7 L247.6 293.4 L247.9 293.8 L248.1 293.9 L248.3 294.2 L248.5 294.8 L248.8 293.9 L249.0 295.2 L249.2 294.7 L249.4 295.6 L249.6 295.4 L249.9 295.8 L250.1 295.7 L250.3 296.1 L250.5 295.8 L250.8 295.7 L251.0 296.4 L251.2 296.6 L251.4 297.3 L251.6 295.8 L251.9 296.7 L252.1 297.3 L252.3 296.6 L252.5 297.1 L252.7 298.2 L253.0 298.1 L253.2 297.3 L253.4 298.4 L253.6 298.5 L253.9 298.4 L254.1 298.4 L254.3 298.5 L254.5 298.3 L254.7 298.5 L255.0 299.2 L255.2 299.1 L255.4 299.9 L255.6 299.2 L255.9 298.6 L256.1 299.5 L256.3 299.9 L256.5 300.1 L256.7 300.1 L257.0 299.9 L257.2 300.9 L257.4 300.2 L257.6 300.9 L257.9 300.7 L258.1 300.5 L258.3 301.6 L258.5 300.3 L258.7 301.0 L259.0 301.6 L259.2 301.5 L259.4 302.0 L259.6 301.9 L259.8 301.9 L260.1 303.0 L260.3 302.2 L260.5 302.4 L260.7 302.2 L261.0 302.4 L261.2 303.1 L261.4 303.2 L261.6 303.1 L261.8 303.0 L262.1 303.6 L262.3 302.9 L262.5 303.5 L262.7 303.7 L263.0 303.6 L263.2 304.1 L263.4 303.9 L263.6 304.0 L263.8 305.1 L264.1 304.8 L264.3 305.1 L264.5 304.8 L264.7 305.3 L264.9 305.4 L265.2 305.6 L265.4 306.2 L265.6 305.4 L265.8 305.7 L266.1 305.7 L266.3 304.6 L266.5 305.5 L266.7 306.1 L266.9 306.4 L267.2 306.1 L267.4 306.9 L267.6 307.0 L267.8 306.5 L268.1 307.3 L268.3 307.6 L268.5 307.2 L268.7 306.8 L268.9 307.8 L269.2 307.4 L269.4 307.4 L269.6 307.7 L269.8 307.6 L270.0 308.3 L270.3 308.3 L270.5 308.5 L270.7 308.4 L270.9 308.1 L271.2 308.4 L271.4 308.9 L271.6 308.5 L271.8 309.8 L272.0 308.8 L272.3 308.8 L272.5 309.5 L272.7 309.5 L272.9 309.3 L273.2 309.4 L273.4 309.7 L273.6 310.0 L273.8 310.1 L274.0 309.8 L274.3 310.2 L274.5 310.4 L274.7 310.5 L274.9 309.3 L275.2 310.1 L275.4 310.3 L275.6 310.6 L275.8 310.8 L276.0 311.2 L276.3 311.2 L276.5 311.0 L276.7 311.2 L276.9 311.9 L277.1 311.2 L277.4 311.6 L277.6 312.1 L277.8 311.8 L278.0 311.1 L278.3 312.0 L278.5 311.9 L278.7 312.1 L278.9 312.6 L279.1 312.5 L279.4 312.3 L279.6 312.8 L279.8 312.7 L280.0 312.7 L280.3 312.9 L280.5 313.0 L280.7 312.9 L280.9 312.9 L281.1 313.2 L281.4 313.0 L281.6 313.0 L281.8 313.9 L282.0 313.5 L282.2 313.6 L282.5 313.7 L282.7 313.8 L282.9 313.9 L283.1 314.0 L283.4 313.9 L283.6 314.5 L283.8 314.1 L284.0 314.7 L284.2 313.9 L284.5 314.2 L284.7 315.0 L284.9 314.7 L285.1 314.6 L285.4 315.1 L285.6 314.7 L285.8 315.1 L286.0 314.5 L286.2 315.1 L286.5 315.2 L286.7 315.6 L286.9 315.8 L287.1 315.4 L287.3 316.2 L287.6 315.6 L287.8 315.2 L288.0 315.2 L288.2 316.5 L288.5 316.1 L288.7 316.0 L288.9 316.1 L289.1 316.0 L289.3 316.9 L289.6 316.5 L289.8 317.2 L290.0 316.6 L290.2 316.1 L290.5 317.1 L290.7 316.8 L290.9 317.0 L291.1 317.6 L291.3 317.1 L291.6 317.6 L291.8 317.3 L292.0 317.2 L292.2 317.7 L292.5 317.4 L292.7 318.0 L292.9 318.0 L293.1 317.8 L293.3 318.1 L293.6 318.1 L293.8 318.0 L294.0 318.4 L294.2 318.1 L294.4 318.5 L294.7 318.0 L294.9 318.4 L295.1 318.6 L295.3 318.3 L295.6 318.5 L295.8 318.5 L296.0 319.0 L296.2 318.6 L296.4 319.1 L296.7 319.5 L296.9 319.2 L297.1 318.7 L297.3 319.2 L297.6 319.6 L297.8 319.3 L298.0 319.7 L298.2 319.7 L298.4 319.7 L298.7 319.5 L298.9 319.5 L299.1 319.7 L299.3 319.8 L299.5 320.0 L299.8 320.1 L300.0 319.9 L300.2 320.1 L300.4 320.3 L300.7 319.7 L300.9 320.1 L301.1 320.1 L301.3 320.4 L301.5 320.4 L301.8 320.5 L302.0 320.4 L302.2 320.9 L302.4 320.8 L302.7 320.3 L302.9 320.9 L303.1 320.6 L303.3 321.5 L303.5 320.9 L303.8 321.0 L304.0 321.2 L304.2 321.2 L304.4 321.3 L304.7 321.8 L304.9 321.5 L305.1 321.7 L305.3 321.9 L305.5 321.3 L305.8 322.1 L306.0 321.9 L306.2 322.1 L306.4 321.6 L306.6 322.1 L306.9 322.1 L307.1 321.9 L307.3 322.7 L307.5 322.3 L307.8 322.1 L308.0 322.3 L308.2 322.6 L308.4 322.7 L308.6 322.6 L308.9 322.8 L309.1 322.9 L309.3 322.2 L309.5 322.5 L309.8 322.4 L310.0 322.8 L310.2 323.2 L310.4 323.0 L310.6 322.6 L310.9 322.9 L311.1 323.3 L311.3 322.9 L311.5 323.1 L311.7 323.2 L312.0 322.7 L312.2 323.5 L312.4 323.4 L312.6 323.5 L312.9 323.2 L313.1 323.3 L313.3 323.4 L313.5 323.6 L313.7 323.6 L314.0 323.7 L314.2 324.2 L314.4 324.1 L314.6 323.6 L314.9 323.7 L315.1 324.4 L315.3 323.9 L315.5 324.4 L315.7 324.5 L316.0 324.0 L316.2 324.1 L316.4 324.2 L316.6 324.0 L316.8 324.0 L317.1 324.2 L317.3 324.6 L317.5 324.3 L317.7 324.4 L318.0 324.4 L318.2 324.2 L318.4 325.0 L318.6 324.0 L318.8 324.5 L319.1 324.9 L319.3 324.4 L319.5 325.0 L319.7 325.2 L320.0 324.7 L320.2 325.0 L320.4 324.7 L320.6 325.2 L320.8 325.1 L321.1 325.2 L321.3 325.6 L321.5 325.4 L321.7 325.6 L322.0 325.5 L322.2 325.0 L322.4 325.5 L322.6 325.6 L322.8 325.1 L323.1 325.9 L323.3 325.6 L323.5 325.7 L323.7 325.4 L323.9 325.7 L324.2 325.8 L324.4 325.7 L324.6 325.8 L324.8 325.3 L325.1 326.2 L325.3 325.6 L325.5 325.4 L325.7 325.8 L325.9 325.8 L326.2 326.2 L326.4 325.9 L326.6 326.2 L326.8 325.9 L327.1 326.8 L327.3 326.4 L327.5 326.8 L327.7 326.1 L327.9 326.5 L328.2 326.2 L328.4 326.6 L328.6 326.7 L328.8 326.1 L329.0 326.3 L329.3 326.3 L329.5 326.3 L329.7 326.5 L329.9 326.5 L330.2 326.4 L330.4 326.8 L330.6 326.9 L330.8 326.5 L331.0 326.7 L331.3 326.9 L331.5 326.9 L331.7 326.8 L331.9 327.2 L332.2 327.3 L332.4 327.2 L332.6 327.1 L332.8 327.6 L333.0 327.6 L333.3 327.1 L333.5 327.2 L333.7 327.6 L333.9 327.1 L334.1 327.4 L334.4 327.4 L334.6 327.2 L334.8 327.4 L335.0 327.1 L335.3 327.4 L335.5 327.0 L335.7 328.1 L335.9 328.0 L336.1 327.9 L336.4 327.7 L336.6 327.9 L336.8 328.0 L337.0 328.0 L337.3 328.0 L337.5 327.6 L337.7 327.9 L337.9 327.7 L338.1 327.6 L338.4 327.6 L338.6 328.0 L338.8 328.2 L339.0 327.7 L339.3 328.5 L339.5 328.4 L339.7 328.0 L339.9 328.0 L340.1 328.1 L340.4 328.4 L340.6 328.1 L340.8 328.0 L341.0 328.3 L341.2 327.8 L341.5 328.3 L341.7 328.6 L341.9 328.4 L342.1 328.6 L342.4 328.5 L342.6 328.6 L342.8 328.5 L343.0 328.3 L343.2 328.5 L343.5 328.5 L343.7 328.9 L343.9 329.0 L344.1 328.7 L344.4 328.5 L344.6 328.5 L344.8 328.7 L345.0 329.0 L345.2 328.8 L345.5 328.8 L345.7 328.6 L345.9 329.0 L346.1 328.9 L346.3 328.9 L346.6 328.9 L346.8 329.3 L347.0 328.9 L347.2 329.4 L347.5 329.3 L347.7 329.0 L347.9 329.2 L348.1 329.0 L348.3 328.9 L348.6 329.0 L348.8 328.9 L349.0 329.3 L349.2 329.2 L349.5 329.3 L349.7 329.4 L349.9 328.5 L350.1 329.3 L350.3 328.9 L350.6 329.3 L350.8 329.1 L351.0 329.4 L351.2 329.7 L351.4 329.0 L351.7 329.5 L351.9 329.4 L352.1 329.0 L352.3 329.6 L352.6 329.5 L352.8 329.4 L353.0 329.4 L353.2 330.3 L353.4 329.5 L353.7 329.2 L353.9 329.4 L354.1 329.6 L354.3 329.6 L354.6 329.7 L354.8 329.5 L355.0 329.8 L355.2 329.6 L355.4 329.4 L355.7 329.6 L355.9 329.7 L356.1 330.0 L356.3 329.9 L356.6 329.8 L356.8 329.9 L357.0 329.9 L357.2 330.4 L357.4 329.8 L357.7 330.0 L357.9 330.1 L358.1 329.8 L358.3 330.0 L358.5 330.1 L358.8 329.9 L359.0 330.2 L359.2 330.3 L359.4 330.3 L359.7 330.1 L359.9 330.2 L360.1 330.7 L360.3 329.9 L360.5 330.2 L360.8 330.4 L361.0 330.2 L361.2 330.4 L361.4 330.3 L361.7 330.4 L361.9 330.6 L362.1 330.2 L362.3 330.4 L362.5 330.3 L362.8 330.3 L363.0 330.4 L363.2 330.1 L363.4 330.6 L363.6 330.8 L363.9 330.8 L364.1 330.7 L364.3 330.2 L364.5 330.8 L364.8 330.3 L365.0 330.5 L365.2 330.9 L365.4 330.3 L365.6 330.7 L365.9 330.6 L366.1 330.5 L366.3 330.4 L366.5 330.7 L366.8 330.5 L367.0 330.9 L367.2 330.9 L367.4 330.4 L367.6 330.6 L367.9 330.6 L368.1 330.5 L368.3 330.5 L368.5 330.8 L368.8 330.7 L369.0 330.4 L369.2 330.7 L369.4 330.9 L369.6 330.6 L369.9 330.6 L370.1 331.2 L370.3 331.1 L370.5 330.5 L370.7 330.6 L371.0 331.0 L371.2 330.6 L371.4 330.9 L371.6 330.8 L371.9 331.1 L372.1 330.4 L372.3 330.5 L372.5 330.7 L372.7 331.2 L373.0 331.0 L373.2 330.7 L373.4 331.1 L373.6 331.2 L373.9 331.0 L374.1 331.0 L374.3 331.2 L374.5 331.3 L374.7 331.1 L375.0 331.2 L375.2 331.1 L375.4 331.1 L375.6 331.0 L375.8 331.2 L376.1 331.1 L376.3 331.1 L376.5 331.4 L376.7 331.3 L377.0 331.4 L377.2 330.9 L377.4 331.4 L377.6 331.1 L377.8 331.1 L378.1 331.1 L378.3 331.5 L378.5 331.5 L378.7 331.2 L379.0 331.1 L379.2 331.3 L379.4 331.3 L379.6 331.7 L379.8 331.1 L380.1 331.0 L380.3 331.3 L380.5 331.4 L380.7 331.4 L380.9 331.6 L381.2 331.9 L381.4 331.4 L381.6 331.3 L381.8 331.1 L382.1 331.5 L382.3 331.7 L382.5 331.4 L382.7 331.7 L382.9 331.5 L383.2 331.8 L383.4 331.6 L383.6 331.3 L383.8 331.4 L384.1 331.2 L384.3 331.2 L384.5 331.6 L384.7 331.8 L384.9 332.0 L385.2 331.6 L385.4 331.6 L385.6 331.4 L385.8 331.8 L386.1 331.7 L386.3 331.5 L386.5 331.8 L386.7 331.8 L386.9 331.3 L387.2 331.8 L387.4 331.7 L387.6 331.6 L387.8 331.6 L388.0 332.1 L388.3 332.0 L388.5 332.1 L388.7 331.5 L388.9 331.6 L389.2 331.9 L389.4 331.5 L389.6 331.6 L389.8 331.4 L390.0 332.2 L390.3 332.0 L390.5 331.9 L390.7 331.9 L390.9 331.7 L391.2 331.8 L391.4 332.0 L391.6 331.7 L391.8 332.1 L392.0 331.8 L392.3 331.7 L392.5 332.1 L392.7 331.9 L392.9 332.0 L393.1 331.8 L393.4 331.5 L393.6 332.0 L393.8 331.7 L394.0 332.2 L394.3 331.6 L394.5 331.6 L394.7 332.0 L394.9 332.1 L395.1 332.0 L395.4 331.7 L395.6 332.2 L395.8 331.7 L396.0 331.9 L396.3 331.9 L396.5 331.9 L396.7 332.2 L396.9 331.9 L397.1 332.1 L397.4 332.2 L397.6 331.7 L397.8 331.8 L398.0 332.0 L398.2 332.0 L398.5 332.1 L398.7 331.7 L398.9 332.2 L399.1 332.2 L399.4 332.1 L399.6 331.8 L399.8 332.1 L400.0 332.0 L400.2 332.2 L400.5 332.1 L400.7 332.3 L400.9 332.1 L401.1 332.4 L401.4 331.7 L401.6 332.0 L401.8 332.3 L402.0 331.9 L402.2 332.3 L402.5 332.0 L402.7 332.2 L402.9 332.0 L403.1 332.1 L403.4 332.3 L403.6 332.2 L403.8 332.2 L404.0 332.6 L404.2 332.2 L404.5 332.1 L404.7 332.4 L404.9 332.4 L405.1 332.5 L405.3 332.6 L405.6 332.1 L405.8 332.5 L406.0 332.5 L406.2 332.3 L406.5 332.3 L406.7 331.7 L406.9 332.2 L407.1 332.6 L407.3 332.0 L407.6 332.2 L407.8 332.4 L408.0 332.4 L408.2 332.6 L408.5 332.0 L408.7 332.4 L408.9 332.5 L409.1 332.1 L409.3 332.4 L409.6 332.7 L409.8 332.6 L410.0 332.5 L410.2 331.9 L410.4 332.4 L410.7 332.5 L410.9 332.3 L411.1 332.4 L411.3 333.0 L411.6 332.4 L411.8 332.2 L412.0 332.5 L412.2 332.4 L412.4 332.4 L412.7 332.4 L412.9 332.6 L413.1 332.5 L413.3 332.2 L413.6 332.4 L413.8 332.5 L414.0 332.4 L414.2 332.7 L414.4 332.6 L414.7 332.3 L414.9 332.5 L415.1 332.9 L415.3 332.8 L415.6 332.5 L415.8 332.7 L416.0 332.4 L416.2 332.2 L416.4 332.6 L416.7 332.6 L416.9 332.6 L417.1 332.5 L417.3 332.6 L417.5 332.4 L417.8 332.6 L418.0 332.7 L418.2 332.5 L418.4 332.7 L418.7 332.2 L418.9 332.4 L419.1 332.8 L419.3 332.9 L419.5 332.6 L419.8 332.6 L420.0 332.3 L420.2 332.6 L420.4 332.7 L420.7 332.3 L420.9 332.7 L421.1 332.7 L421.3 332.7 L421.5 332.4 L421.8 332.7 L422.0 332.3 L422.2 332.9 L422.4 332.6 L422.6 332.4 L422.9 332.9 L423.1 332.8 L423.3 332.5 L423.5 333.0 L423.8 332.5 L424.0 332.7 L424.2 332.9 L424.4 332.2 L424.6 332.8 L424.9 332.6 L425.1 332.7 L425.3 332.5 L425.5 332.7 L425.8 332.5 L426.0 332.5 L426.2 332.6 L426.4 332.5 L426.6 333.0 L426.9 332.4 L427.1 332.6 L427.3 332.6 L427.5 332.7 L427.7 332.8 L428.0 332.8 L428.2 332.6 L428.4 332.6 L428.6 332.7 L428.9 332.9 L429.1 332.8 L429.3 332.6 L429.5 332.4 L429.7 333.1 L430.0 332.9 L430.2 332.8 L430.4 332.8 L430.6 332.6 L430.9 332.6 L431.1 332.7 L431.3 332.7 L431.5 332.6 L431.7 332.5 L432.0 332.7 L432.2 332.9 L432.4 332.7 L432.6 332.8 L432.9 332.4 L433.1 332.7 L433.3 332.7 L433.5 332.6 L433.7 332.5 L434.0 332.8 L434.2 332.6 L434.4 332.9 L434.6 332.7 L434.8 332.9 L435.1 332.7 L435.3 332.5 L435.5 332.8 L435.7 332.7 L436.0 332.9 L436.2 332.7 L436.4 332.7 L436.6 333.0 L436.8 333.0 L437.1 332.9 L437.3 333.0 L437.5 332.9 L437.7 333.0 L438.0 333.0 L438.2 332.9 L438.4 332.8 L438.6 332.9 L438.8 333.2 L439.1 332.8 L439.3 332.8 L439.5 332.8 L439.7 332.8 L439.9 332.9 L440.2 332.6 L440.4 332.5 L440.6 332.9 L440.8 332.6 L441.1 332.9 L441.3 332.9 L441.5 333.1 L441.7 333.1 L441.9 332.9 L442.2 332.8 L442.4 332.7 L442.6 332.7 L442.8 332.9 L443.1 332.5 L443.3 332.9 L443.5 332.9 L443.7 333.0 L443.9 332.8 L444.2 332.9 L444.4 332.8 L444.6 332.8 L444.8 332.6 L445.0 332.9 L445.3 333.2 L445.5 332.9 L445.7 333.0 L445.9 332.7 L446.2 333.1 L446.4 332.8 L446.6 333.0 L446.8 332.9 L447.0 332.7 L447.3 333.1 L447.5 332.9 L447.7 332.9 L447.9 333.0 L448.2 332.9 L448.4 332.9 L448.6 333.0 L448.8 332.9 L449.0 332.9 L449.3 332.8 L449.5 332.7 L449.7 332.8 L449.9 332.8 L450.2 332.9 L450.4 333.1 L450.6 332.6 L450.8 333.0 L451.0 332.6 L451.3 332.8 L451.5 332.9 L451.7 332.6 L451.9 332.6 L452.1 333.0 L452.4 333.0 L452.6 332.9 L452.8 332.8 L453.0 333.2 L453.3 332.9 L453.5 332.8 L453.7 333.2 L453.9 333.1 L454.1 332.9 L454.4 333.2 L454.6 333.0 L454.8 333.1 L455.0 333.0 L455.3 332.8 L455.5 333.1 L455.7 333.0 L455.9 332.8 L456.1 332.8 L456.4 333.1 L456.6 332.9 L456.8 333.0 L457.0 333.1 L457.2 333.0 L457.5 332.7 L457.7 333.1 L457.9 333.1 L458.1 333.1 L458.4 333.2 L458.6 333.0 L458.8 333.1 L459.0 333.2 L459.2 332.9 L459.5 333.2 L459.7 333.2 L459.9 333.1 L460.1 333.2 L460.4 333.1 L460.6 332.9 L460.8 333.2 L461.0 333.1 L461.2 333.1 L461.5 333.0 L461.7 333.2 L461.9 333.1 L462.1 332.9 L462.3 333.1 L462.6 333.1 L462.8 332.9 L463.0 332.9 L463.2 332.9 L463.5 332.9 L463.7 333.1 L463.9 333.2 L464.1 333.2 L464.3 333.2 L464.6 333.2 L464.8 333.2 L465.0 333.2 L465.2 333.0 L465.5 333.1 L465.7 333.1 L465.9 333.0 L466.1 333.0 L466.3 332.9 L466.6 333.0 L466.8 332.8 L467.0 333.1 L467.2 333.0 L467.5 333.1 L467.7 333.1 L467.9 333.2 L468.1 332.9 L468.3 333.0 L468.6 332.8 L468.8 332.7 L469.0 332.7 L469.2 333.2 L469.4 332.7 L469.7 333.1 L469.9 333.2 L470.1 333.0 L470.3 333.2 L470.6 333.2 L470.8 333.2 L471.0 333.2 L471.2 333.2 L471.4 332.9 L471.7 333.1 L471.9 333.0 L472.1 332.8 L472.3 332.8 L472.6 333.2 L472.8 333.0 L473.0 333.1 L473.2 333.0 L473.4 333.1 L473.7 333.0 L473.9 333.0 L474.1 332.9 L474.3 332.8 L474.5 332.9 L474.8 333.1 L475.0 333.2 L475.2 333.2 L475.4 333.2 L475.7 333.2 L475.9 333.1 L476.1 332.9 L476.3 333.1 L476.5 332.7 L476.8 333.0 L477.0 333.2 L477.2 333.1 L477.4 333.2 L477.7 333.0 L477.9 332.9 L478.1 333.0 L478.3 333.0 L478.5 333.2 L478.8 333.2 L479.0 333.0 L479.2 333.0 L479.4 333.1 L479.7 333.0 L479.9 332.9 L480.1 333.1 L480.3 333.1 L480.5 333.2 L480.8 332.9 L481.0 333.1 L481.2 332.8 L481.4 333.2 L481.6 332.9 L481.9 333.0 L482.1 333.0 L482.3 333.0 L482.5 332.9 L482.8 332.8 L483.0 333.2 L483.2 333.1 L483.4 333.1 L483.6 333.2 L483.9 333.1 L484.1 333.2 L484.3 333.1 L484.5 333.2 L484.8 333.2 L485.0 333.2 L485.2 333.1 L485.4 333.2 L485.6 333.2 L485.9 332.8 L486.1 333.1 L486.3 333.0 L486.5 333.1 L486.7 332.8 L487.0 333.2 L487.2 333.0 L487.4 333.1 L487.6 333.0 L487.9 332.8 L488.1 333.0 L488.3 332.8 L488.5 333.0 L488.7 333.1 L489.0 333.1 L489.2 333.1 L489.4 333.1 L489.6 333.2 L489.9 333.2 L490.1 332.9 L490.3 333.0 L490.5 333.0 L490.7 333.1 L491.0 333.0 L491.2 333.0 L491.4 333.2 L491.6 333.1 L491.8 333.1 L492.1 333.1 L492.3 333.1 L492.5 333.2 L492.7 333.2 L493.0 333.2 L493.2 332.6 L493.4 333.2 L493.6 333.2 L493.8 333.2 L494.1 333.1 L494.3 332.9 L494.5 333.2 L494.7 333.0 L495.0 332.8 L495.2 333.0 L495.4 333.2 L495.6 333.2 L495.8 333.2 L496.1 333.0 L496.3 333.2 L496.5 332.9 L496.7 333.1 L497.0 332.9 L497.2 333.2 L497.4 333.2 L497.6 333.2 L497.8 333.2 L498.1 333.1 L498.3 333.2 L498.5 332.8 L498.7 333.2 L498.9 333.2 L499.2 333.1 L499.4 333.1 L499.6 333.2 L499.8 333.2 L500.1 333.2 L500.3 333.1 L500.5 333.1 L500.7 332.9 L500.9 333.0 L501.2 333.2 L501.4 333.1 L501.6 333.2 L501.8 333.2 L502.1 333.2 L502.3 333.2 L502.5 333.2 L502.7 333.2 L502.9 333.1 L503.2 333.2 L503.4 332.9 L503.6 333.2 L503.8 332.9 L504.0 333.2 L504.3 333.2 L504.5 333.2 L504.7 333.2 L504.9 333.0 L505.2 333.2 L505.4 333.2 L505.6 333.2 L505.8 333.2 L506.0 333.2 L506.3 333.2 L506.5 333.2 L506.7 332.9 L506.9 333.1 L507.2 333.2 L507.4 333.2 L507.6 333.2 L507.8 333.1 L508.0 333.2 L508.3 333.1 L508.5 333.2 L508.7 333.2 L508.9 332.9 L509.1 333.2 L509.4 333.2 L509.6 333.1 L509.8 333.0 L510.0 333.2 L510.3 333.2 L510.5 333.1 L510.7 333.0 L510.9 333.2 L511.1 332.9 L511.4 332.8 L511.6 333.1 L511.8 333.1 L512.0 333.1 L512.3 333.1 L512.5 333.2 L512.7 333.1 L512.9 333.1 L513.1 333.1 L513.4 333.2 L513.6 333.2 L513.8 333.2 L514.0 333.2 L514.3 332.6 L514.5 333.0 L514.7 333.1 L514.9 333.2 L515.1 332.9 L515.4 333.2 L515.6 333.2 L515.8 333.1 L516.0 333.2 L516.2 333.1 L516.5 333.0 L516.7 333.2 L516.9 333.1 L517.1 332.9 L517.4 333.1 L517.6 333.2 L517.8 333.0" stroke="#2e3192" stroke-width="1.6" stroke-dasharray="2 1.8"/>
<path d="M107.5 333.2 L107.7 333.1 L107.9 333.2 L108.1 333.2 L108.4 333.2 L108.6 333.2 L108.8 333.2 L109.0 333.2 L109.2 333.1 L109.5 333.2 L109.7 333.2 L109.9 333.1 L110.1 333.2 L110.4 333.2 L110.6 333.2 L110.8 333.2 L111.0 333.2 L111.2 333.2 L111.5 333.2 L111.7 333.1 L111.9 333.2 L112.1 333.1 L112.3 333.2 L112.6 333.2 L112.8 333.2 L113.0 333.2 L113.2 333.2 L113.5 333.2 L113.7 333.2 L113.9 333.2 L114.1 333.2 L114.3 333.1 L114.6 333.2 L114.8 333.2 L115.0 333.2 L115.2 333.1 L115.5 333.2 L115.7 333.1 L115.9 333.1 L116.1 333.2 L116.3 333.1 L116.6 333.2 L116.8 333.1 L117.0 333.2 L117.2 333.2 L117.5 333.2 L117.7 333.1 L117.9 333.1 L118.1 333.1 L118.3 333.2 L118.6 333.2 L118.8 333.2 L119.0 333.1 L119.2 333.1 L119.4 333.0 L119.7 333.1 L119.9 333.1 L120.1 333.0 L120.3 333.1 L120.6 333.1 L120.8 333.0 L121.0 333.1 L121.2 333.0 L121.4 332.8 L121.7 332.9 L121.9 332.9 L122.1 332.9 L122.3 332.8 L122.6 332.8 L122.8 332.8 L123.0 332.8 L123.2 332.8 L123.4 332.8 L123.7 332.8 L123.9 332.7 L124.1 332.7 L124.3 332.6 L124.5 332.6 L124.8 332.6 L125.0 332.3 L125.2 332.4 L125.4 332.4 L125.7 332.4 L125.9 332.2 L126.1 332.3 L126.3 332.2 L126.5 332.1 L126.8 331.9 L127.0 331.9 L127.2 331.8 L127.4 331.9 L127.7 331.7 L127.9 331.8 L128.1 331.6 L128.3 331.4 L128.5 331.3 L128.8 331.2 L129.0 331.2 L129.2 331.2 L129.4 330.9 L129.7 330.9 L129.9 330.6 L130.1 330.6 L130.3 330.7 L130.5 330.2 L130.8 330.3 L131.0 330.1 L131.2 329.6 L131.4 329.5 L131.6 329.4 L131.9 329.4 L132.1 329.1 L132.3 328.9 L132.5 328.8 L132.8 328.5 L133.0 328.3 L133.2 328.0 L133.4 327.9 L133.6 327.5 L133.9 327.5 L134.1 327.0 L134.3 326.6 L134.5 326.5 L134.8 326.2 L135.0 325.6 L135.2 325.6 L135.4 325.0 L135.6 324.8 L135.9 324.6 L136.1 324.0 L136.3 323.8 L136.5 323.3 L136.7 323.2 L137.0 322.6 L137.2 322.0 L137.4 321.5 L137.6 321.1 L137.9 320.8 L138.1 320.3 L138.3 320.0 L138.5 319.3 L138.7 318.8 L139.0 318.3 L139.2 317.7 L139.4 317.2 L139.6 316.7 L139.9 316.1 L140.1 315.2 L140.3 314.4 L140.5 313.9 L140.7 313.4 L141.0 312.3 L141.2 311.9 L141.4 311.3 L141.6 310.4 L141.8 309.6 L142.1 309.3 L142.3 308.5 L142.5 307.4 L142.7 306.8 L143.0 306.0 L143.2 304.7 L143.4 304.5 L143.6 302.9 L143.8 302.1 L144.1 301.0 L144.3 300.3 L144.5 299.0 L144.7 298.3 L145.0 297.5 L145.2 296.3 L145.4 295.1 L145.6 294.4 L145.8 292.8 L146.1 292.1 L146.3 290.7 L146.5 289.6 L146.7 288.4 L147.0 287.2 L147.2 286.0 L147.4 284.5 L147.6 283.3 L147.8 282.3 L148.1 280.9 L148.3 279.3 L148.5 278.0 L148.7 276.7 L148.9 275.5 L149.2 274.1 L149.4 272.7 L149.6 271.0 L149.8 269.7 L150.1 267.9 L150.3 266.0 L150.5 265.2 L150.7 263.3 L150.9 261.9 L151.2 260.2 L151.4 259.2 L151.6 257.0 L151.8 255.8 L152.1 253.9 L152.3 252.1 L152.5 250.3 L152.7 249.2 L152.9 247.4 L153.2 245.8 L153.4 244.4 L153.6 242.2 L153.8 240.4 L154.0 238.5 L154.3 236.8 L154.5 234.8 L154.7 232.8 L154.9 231.9 L155.2 228.8 L155.4 227.6 L155.6 225.7 L155.8 223.7 L156.0 221.5 L156.3 219.8 L156.5 217.8 L156.7 215.6 L156.9 214.0 L157.2 212.0 L157.4 209.9 L157.6 208.4 L157.8 205.8 L158.0 204.3 L158.3 202.0 L158.5 200.4 L158.7 198.2 L158.9 196.3 L159.1 193.8 L159.4 191.9 L159.6 189.8 L159.8 188.2 L160.0 186.4 L160.3 184.5 L160.5 181.8 L160.7 180.0 L160.9 177.4 L161.1 175.1 L161.4 173.6 L161.6 171.6 L161.8 169.3 L162.0 167.2 L162.3 166.1 L162.5 163.5 L162.7 161.2 L162.9 160.8 L163.1 157.9 L163.4 155.7 L163.6 154.2 L163.8 151.6 L164.0 150.6 L164.3 147.4 L164.5 145.5 L164.7 144.1 L164.9 141.9 L165.1 140.9 L165.4 137.8 L165.6 136.2 L165.8 134.8 L166.0 133.1 L166.2 131.4 L166.5 129.3 L166.7 128.3 L166.9 125.4 L167.1 123.9 L167.4 122.4 L167.6 120.1 L167.8 118.4 L168.0 116.7 L168.2 114.9 L168.5 113.0 L168.7 111.6 L168.9 109.6 L169.1 108.8 L169.4 106.3 L169.6 106.4 L169.8 104.7 L170.0 103.0 L170.2 100.9 L170.5 99.2 L170.7 98.6 L170.9 96.7 L171.1 95.5 L171.3 93.6 L171.6 93.1 L171.8 90.9 L172.0 90.0 L172.2 87.9 L172.5 87.2 L172.7 86.5 L172.9 84.9 L173.1 83.7 L173.3 83.2 L173.6 81.7 L173.8 81.3 L174.0 78.5 L174.2 78.9 L174.5 77.9 L174.7 76.0 L174.9 75.2 L175.1 75.4 L175.3 73.6 L175.6 73.0 L175.8 72.8 L176.0 71.6 L176.2 71.3 L176.4 69.9 L176.7 69.8 L176.9 69.6 L177.1 68.6 L177.3 66.8 L177.6 67.7 L177.8 66.9 L178.0 66.0 L178.2 66.6 L178.4 64.7 L178.7 66.1 L178.9 64.6 L179.1 65.3 L179.3 64.3 L179.6 63.4 L179.8 63.9 L180.0 63.8 L180.2 63.8 L180.4 63.9 L180.7 62.9 L180.9 63.5 L181.1 63.6 L181.3 63.1 L181.6 62.8 L181.8 62.9 L182.0 63.8 L182.2 64.0 L182.4 63.4 L182.7 63.3 L182.9 64.8 L183.1 63.7 L183.3 64.8 L183.5 64.6 L183.8 64.5 L184.0 65.8 L184.2 66.1 L184.4 67.3 L184.7 68.2 L184.9 67.5 L185.1 68.6 L185.3 69.1 L185.5 68.9 L185.8 69.4 L186.0 71.2 L186.2 70.9 L186.4 71.7 L186.7 72.3 L186.9 73.1 L187.1 73.6 L187.3 75.0 L187.5 76.1 L187.8 76.1 L188.0 76.5 L188.2 78.1 L188.4 78.2 L188.6 79.6 L188.9 81.4 L189.1 82.9 L189.3 82.9 L189.5 83.3 L189.8 85.2 L190.0 84.8 L190.2 86.6 L190.4 88.7 L190.6 89.4 L190.9 89.6 L191.1 90.6 L191.3 92.9 L191.5 93.7 L191.8 94.6 L192.0 96.3 L192.2 97.1 L192.4 97.7 L192.6 100.2 L192.9 100.8 L193.1 102.0 L193.3 103.1 L193.5 105.2 L193.8 106.0 L194.0 108.0 L194.2 109.0 L194.4 110.9 L194.6 111.7 L194.9 112.9 L195.1 113.8 L195.3 115.6 L195.5 117.8 L195.7 120.3 L196.0 119.8 L196.2 121.4 L196.4 123.4 L196.6 125.0 L196.9 125.9 L197.1 127.8 L197.3 128.5 L197.5 130.6 L197.7 132.6 L198.0 134.4 L198.2 135.2 L198.4 136.7 L198.6 138.5 L198.9 140.3 L199.1 141.6 L199.3 142.6 L199.5 144.6 L199.7 146.5 L200.0 147.3 L200.2 148.6 L200.4 150.9 L200.6 152.4 L200.8 154.2 L201.1 155.4 L201.3 156.7 L201.5 158.4 L201.7 159.7 L202.0 161.3 L202.2 163.0 L202.4 164.6 L202.6 166.8 L202.8 167.4 L203.1 169.5 L203.3 170.8 L203.5 173.2 L203.7 174.3 L204.0 175.6 L204.2 177.6 L204.4 178.8 L204.6 180.2 L204.8 182.5 L205.1 183.7 L205.3 185.6 L205.5 186.9 L205.7 188.3 L205.9 189.6 L206.2 190.6 L206.4 192.8 L206.6 194.1 L206.8 195.8 L207.1 197.0 L207.3 198.3 L207.5 199.6 L207.7 201.7 L207.9 203.4 L208.2 204.3 L208.4 206.0 L208.6 207.8 L208.8 208.4 L209.1 210.0 L209.3 211.2 L209.5 213.4 L209.7 214.5 L209.9 215.6 L210.2 216.6 L210.4 218.5 L210.6 220.3 L210.8 221.2 L211.1 222.5 L211.3 224.2 L211.5 225.0 L211.7 226.7 L211.9 228.2 L212.2 229.1 L212.4 230.4 L212.6 232.0 L212.8 233.2 L213.0 234.4 L213.3 235.8 L213.5 237.1 L213.7 238.0 L213.9 239.3 L214.2 240.8 L214.4 242.3 L214.6 243.5 L214.8 244.1 L215.0 245.8 L215.3 246.9 L215.5 247.9 L215.7 249.2 L215.9 250.4 L216.2 251.8 L216.4 252.1 L216.6 253.7 L216.8 254.6 L217.0 255.7 L217.3 257.2 L217.5 258.1 L217.7 258.7 L217.9 259.9 L218.1 261.1 L218.4 261.7 L218.6 263.4 L218.8 264.1 L219.0 265.2 L219.3 266.2 L219.5 267.6 L219.7 268.1 L219.9 268.9 L220.1 270.4 L220.4 270.8 L220.6 271.7 L220.8 272.4 L221.0 274.0 L221.3 274.7 L221.5 275.6 L221.7 276.4 L221.9 277.2 L222.1 277.9 L222.4 278.8 L222.6 279.9 L222.8 280.6 L223.0 281.8 L223.2 282.1 L223.5 282.9 L223.7 283.6 L223.9 284.9 L224.1 285.1 L224.4 286.3 L224.6 287.2 L224.8 287.6 L225.0 288.6 L225.2 288.6 L225.5 289.7 L225.7 290.2 L225.9 291.3 L226.1 291.9 L226.4 292.4 L226.6 293.5 L226.8 294.0 L227.0 294.5 L227.2 295.1 L227.5 295.6 L227.7 296.5 L227.9 297.6 L228.1 297.6 L228.4 298.4 L228.6 298.8 L228.8 299.7 L229.0 300.2 L229.2 300.6 L229.5 300.9 L229.7 301.7 L229.9 302.6 L230.1 302.8 L230.3 303.5 L230.6 303.8 L230.8 304.1 L231.0 305.0 L231.2 305.5 L231.5 305.8 L231.7 306.3 L231.9 306.9 L232.1 307.2 L232.3 307.9 L232.6 308.2 L232.8 308.3 L233.0 309.1 L233.2 309.5 L233.5 309.9 L233.7 310.5 L233.9 310.8 L234.1 311.4 L234.3 311.9 L234.6 312.1 L234.8 312.2 L235.0 312.7 L235.2 313.4 L235.4 313.6 L235.7 313.8 L235.9 314.3 L236.1 314.8 L236.3 315.1 L236.6 315.5 L236.8 315.6 L237.0 316.0 L237.2 316.3 L237.4 316.7 L237.7 316.7 L237.9 317.3 L238.1 317.4 L238.3 318.1 L238.6 318.5 L238.8 318.8 L239.0 318.9 L239.2 319.0 L239.4 319.5 L239.7 319.6 L239.9 320.0 L240.1 320.0 L240.3 320.3 L240.6 320.7 L240.8 321.2 L241.0 321.2 L241.2 321.7 L241.4 322.0 L241.7 321.7 L241.9 322.1 L242.1 322.2 L242.3 322.5 L242.5 322.7 L242.8 323.0 L243.0 323.3 L243.2 323.5 L243.4 323.6 L243.7 323.8 L243.9 324.0 L244.1 324.2 L244.3 324.4 L244.5 324.5 L244.8 324.8 L245.0 324.7 L245.2 325.2 L245.4 325.4 L245.7 325.4 L245.9 325.4 L246.1 325.9 L246.3 325.8 L246.5 325.7 L246.8 326.1 L247.0 326.4 L247.2 326.5 L247.4 326.8 L247.6 326.8 L247.9 326.9 L248.1 326.8 L248.3 327.0 L248.5 327.3 L248.8 327.5 L249.0 327.4 L249.2 327.6 L249.4 327.8 L249.6 327.7 L249.9 327.8 L250.1 328.1 L250.3 328.3 L250.5 328.3 L250.8 328.2 L251.0 328.6 L251.2 328.5 L251.4 328.8 L251.6 328.8 L251.9 329.0 L252.1 329.1 L252.3 329.1 L252.5 329.3 L252.7 329.4 L253.0 329.4 L253.2 329.6 L253.4 329.5 L253.6 329.7 L253.9 329.8 L254.1 329.7 L254.3 329.9 L254.5 329.9 L254.7 330.0 L255.0 330.1 L255.2 330.3 L255.4 330.2 L255.6 330.3 L255.9 330.2 L256.1 330.4 L256.3 330.6 L256.5 330.6 L256.7 330.7 L257.0 330.6 L257.2 330.6 L257.4 330.8 L257.6 330.7 L257.9 330.8 L258.1 331.0 L258.3 330.9 L258.5 331.2 L258.7 331.0 L259.0 331.2 L259.2 331.1 L259.4 331.3 L259.6 331.2 L259.8 331.3 L260.1 331.4 L260.3 331.4 L260.5 331.5 L260.7 331.6 L261.0 331.5 L261.2 331.7 L261.4 331.6 L261.6 331.7 L261.8 331.9 L262.1 331.6 L262.3 331.7 L262.5 331.7 L262.7 331.8 L263.0 331.9 L263.2 332.2 L263.4 332.0 L263.6 332.1 L263.8 332.1 L264.1 332.0 L264.3 332.1 L264.5 332.2 L264.7 332.1 L264.9 332.2 L265.2 332.2 L265.4 332.1 L265.6 332.1 L265.8 332.3 L266.1 332.3 L266.3 332.2 L266.5 332.3 L266.7 332.3 L266.9 332.3 L267.2 332.4 L267.4 332.4 L267.6 332.4 L267.8 332.3 L268.1 332.4 L268.3 332.5 L268.5 332.4 L268.7 332.5 L268.9 332.5 L269.2 332.5 L269.4 332.6 L269.6 332.5 L269.8 332.5 L270.0 332.6 L270.3 332.6 L270.5 332.8 L270.7 332.5 L270.9 332.7 L271.2 332.7 L271.4 332.8 L271.6 332.7 L271.8 332.5 L272.0 332.8 L272.3 332.7 L272.5 332.7 L272.7 332.7 L272.9 332.7 L273.2 332.7 L273.4 332.8 L273.6 332.9 L273.8 332.8 L274.0 332.9 L274.3 332.8 L274.5 332.8 L274.7 332.9 L274.9 332.9 L275.2 332.8 L275.4 332.9 L275.6 332.9 L275.8 332.9 L276.0 332.8 L276.3 333.0 L276.5 332.9 L276.7 333.0 L276.9 332.9 L277.1 333.0 L277.4 332.8 L277.6 333.1 L277.8 332.9 L278.0 332.9 L278.3 333.0 L278.5 333.1 L278.7 333.0 L278.9 332.9 L279.1 333.0 L279.4 333.1 L279.6 332.9 L279.8 333.0 L280.0 333.0 L280.3 333.2 L280.5 333.0 L280.7 333.1 L280.9 333.0 L281.1 333.0 L281.4 333.1 L281.6 333.1 L281.8 332.9 L282.0 333.1 L282.2 333.1 L282.5 333.0 L282.7 333.1 L282.9 333.1 L283.1 333.0 L283.4 333.0 L283.6 333.0 L283.8 333.1 L284.0 333.0 L284.2 333.1 L284.5 333.0 L284.7 333.1 L284.9 333.1 L285.1 333.0 L285.4 333.2 L285.6 333.2 L285.8 333.2 L286.0 333.0 L286.2 333.2 L286.5 333.1 L286.7 333.1 L286.9 333.1 L287.1 333.1 L287.3 333.2 L287.6 333.2 L287.8 333.1 L288.0 333.1 L288.2 333.1 L288.5 333.2 L288.7 333.2 L288.9 333.1 L289.1 333.1 L289.3 333.1 L289.6 333.1 L289.8 333.2 L290.0 333.2 L290.2 333.1 L290.5 333.1 L290.7 333.2 L290.9 333.2 L291.1 333.2 L291.3 333.1 L291.6 333.1 L291.8 333.2 L292.0 333.1 L292.2 333.1 L292.5 333.2 L292.7 333.2 L292.9 333.1 L293.1 333.2 L293.3 333.2 L293.6 333.1 L293.8 333.2 L294.0 333.2 L294.2 333.2 L294.4 333.2 L294.7 333.1 L294.9 333.1 L295.1 333.2 L295.3 333.2 L295.6 333.2 L295.8 333.2 L296.0 333.2 L296.2 333.1 L296.4 333.2 L296.7 333.1 L296.9 333.2 L297.1 333.2 L297.3 333.1 L297.6 333.2 L297.8 333.2 L298.0 333.2 L298.2 333.2 L298.4 333.1 L298.7 333.1 L298.9 333.2 L299.1 333.2 L299.3 333.2 L299.5 333.1 L299.8 333.2 L300.0 333.2 L300.2 333.2 L300.4 333.1 L300.7 333.2 L300.9 333.2 L301.1 333.1 L301.3 333.2 L301.5 333.2 L301.8 333.2 L302.0 333.1 L302.2 333.1 L302.4 333.1 L302.7 333.2 L302.9 333.2 L303.1 333.2 L303.3 333.2 L303.5 333.2 L303.8 333.2 L304.0 333.2 L304.2 333.1 L304.4 333.2 L304.7 333.2 L304.9 333.2 L305.1 333.2 L305.3 333.2 L305.5 333.2 L305.8 333.2 L306.0 333.2 L306.2 333.2 L306.4 333.2 L306.6 333.2 L306.9 333.2 L307.1 333.2 L307.3 333.2 L307.5 333.2 L307.8 333.2 L308.0 333.1 L308.2 333.2 L308.4 333.1 L308.6 333.2 L308.9 333.2 L309.1 333.1 L309.3 333.2 L309.5 333.2 L309.8 333.2 L310.0 333.2 L310.2 333.2 L310.4 333.2 L310.6 333.2 L310.9 333.2 L311.1 333.1 L311.3 333.2 L311.5 333.2 L311.7 333.2 L312.0 333.2 L312.2 333.2 L312.4 333.2 L312.6 333.2 L312.9 333.2 L313.1 333.2 L313.3 333.2 L313.5 333.2 L313.7 333.2 L314.0 333.2 L314.2 333.2 L314.4 333.2 L314.6 333.2 L314.9 333.2 L315.1 333.2 L315.3 333.2 L315.5 333.2 L315.7 333.2 L316.0 333.1 L316.2 333.2 L316.4 333.2 L316.6 333.2 L316.8 333.2 L317.1 333.1 L317.3 333.2 L317.5 333.1 L317.7 333.1 L318.0 333.2 L318.2 333.2" stroke="#111" stroke-width="1.25" stroke-dasharray="1.15 0.72"/>
</g>
<g opacity="0.999" stroke="#111" stroke-width="0.2"><g font-size="15.4"><text transform="translate(75.70 353.2) scale(.955 1)" text-anchor="middle">0</text><text transform="translate(131.15 353.2) scale(.955 1)" text-anchor="middle">0.5</text><text transform="translate(186.60 353.2) scale(.955 1)" text-anchor="middle">1</text><text transform="translate(242.05 353.2) scale(.955 1)" text-anchor="middle">1.5</text><text transform="translate(297.50 353.2) scale(.955 1)" text-anchor="middle">2</text><text transform="translate(352.95 353.2) scale(.955 1)" text-anchor="middle">2.5</text><text transform="translate(408.40 353.2) scale(.955 1)" text-anchor="middle">3</text><text transform="translate(463.85 353.2) scale(.955 1)" text-anchor="middle">3.5</text><text transform="translate(519.30 353.2) scale(.955 1)" text-anchor="middle">4</text><text transform="translate(64.2 338.10) scale(.955 1)" text-anchor="end">0</text><text transform="translate(64.2 275.12) scale(.955 1)" text-anchor="end">0.5</text><text transform="translate(64.2 212.14) scale(.955 1)" text-anchor="end">1</text><text transform="translate(64.2 149.16) scale(.955 1)" text-anchor="end">1.5</text><text transform="translate(64.2 86.18) scale(.955 1)" text-anchor="end">2</text><text transform="translate(64.2 23.20) scale(.955 1)" text-anchor="end">2.5</text><text transform="translate(448.0 35.80) scale(.955 1)" text-anchor="end">0.0</text><text x="420.9" y="35.80" text-anchor="middle">=</text><text transform="translate(409.1 35.80) scale(1.12 1)" text-anchor="middle">λ</text><text transform="translate(448.0 51.10) scale(.955 1)" text-anchor="end">0.1</text><text x="420.9" y="51.10" text-anchor="middle">=</text><text transform="translate(409.1 51.10) scale(1.12 1)" text-anchor="middle">λ</text><text transform="translate(448.0 66.20) scale(.955 1)" text-anchor="end">0.5</text><text x="420.9" y="66.20" text-anchor="middle">=</text><text transform="translate(409.1 66.20) scale(1.12 1)" text-anchor="middle">λ</text><text transform="translate(448.0 81.10) scale(.955 1)" text-anchor="end">0.9</text><text x="420.9" y="81.10" text-anchor="middle">=</text><text transform="translate(409.1 81.10) scale(1.12 1)" text-anchor="middle">λ</text></g>
<g fill="none">
<path d="M457.9 30.6 H499.3" stroke="#00a651" stroke-width="1.6"/>
<path d="M457.9 45.9 H499.6" stroke="#ed1c24" stroke-width="1.7" stroke-dasharray="3.3 1.28"/>
<path d="M457.9 61.0 H499.3" stroke="#2e3192" stroke-width="1.7" stroke-dasharray="2 1.8"/>
<path d="M457.9 75.9 H499.3" stroke="#111" stroke-width="1.8" stroke-dasharray="0.9 0.97"/>
</g>
<text transform="translate(295.5 381.5) scale(0.95 1)" font-size="31.1" text-anchor="middle" stroke-width="0.5">m</text>
<g font-size="33.3" text-anchor="middle">
<text transform="translate(23.6 201.0) rotate(-90) scale(1.1 1)" stroke-width="0.3">P</text>
<text transform="translate(24.0 185.1) rotate(-90) scale(1.15 1)" font-size="32.3">(</text>
<text transform="translate(24.2 167.0) rotate(-90) scale(1.07 1)" stroke-width="0.55">m</text>
<text transform="translate(24.0 147.7) rotate(-90) scale(1.08 1)" font-size="32.3">)</text>
</g></g>
</svg>
</body></html>
